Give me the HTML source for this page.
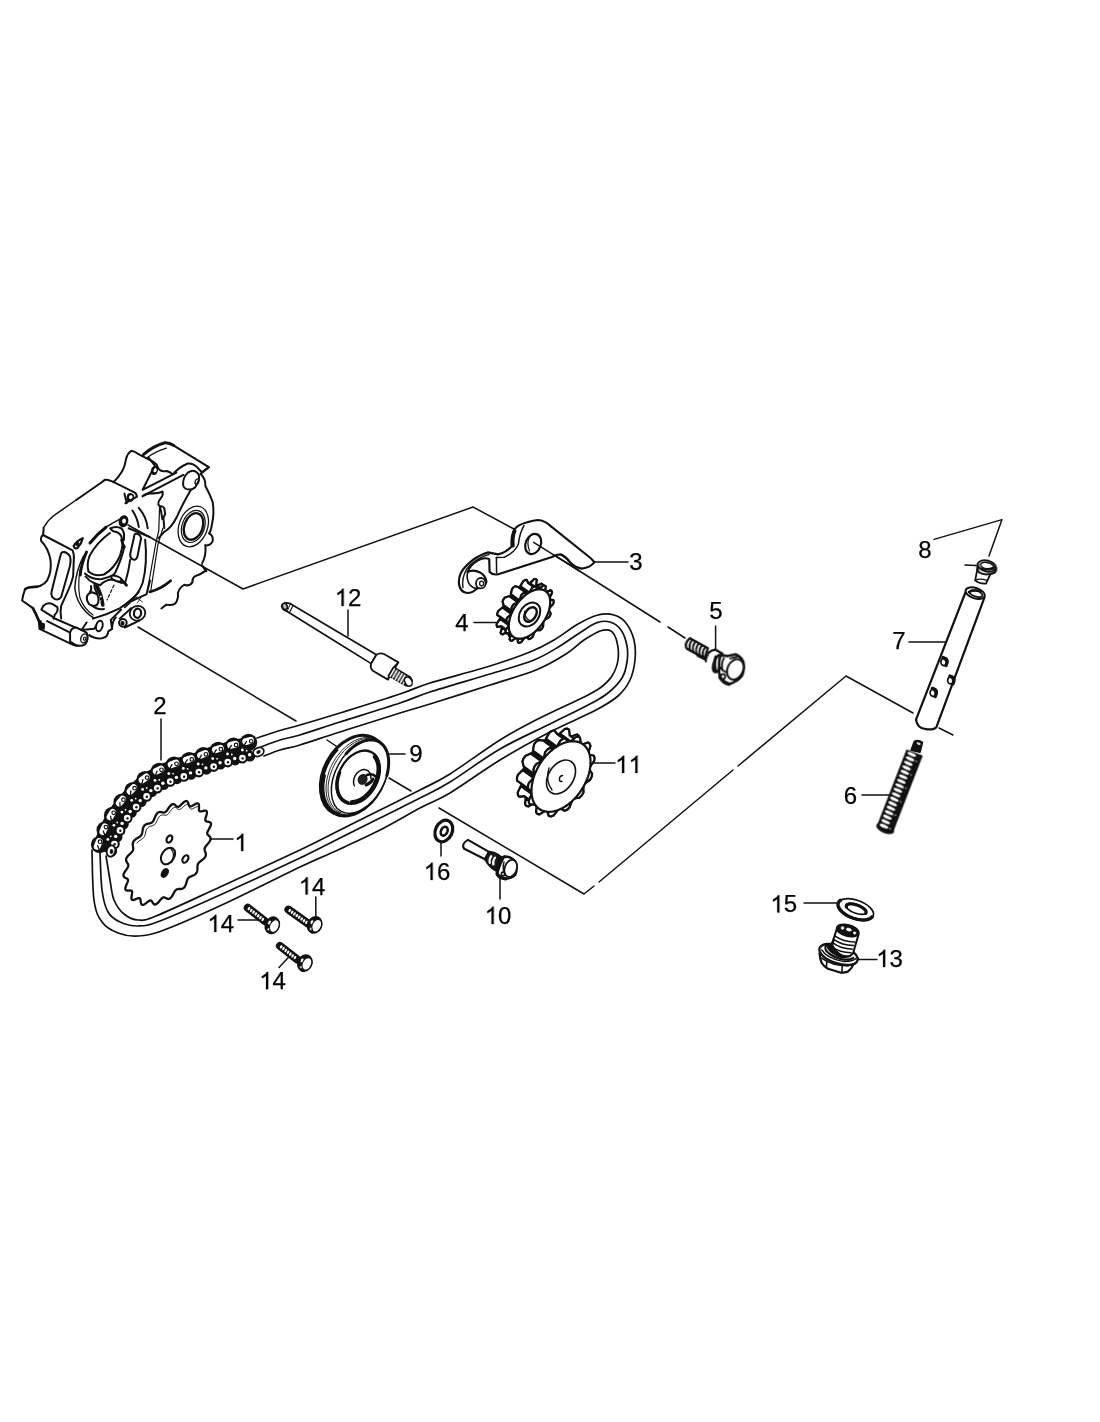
<!DOCTYPE html>
<html><head><meta charset="utf-8"><title>Cam chain - tensioner</title>
<style>
html,body{margin:0;padding:0;background:#fff;}
body{width:1100px;height:1422px;overflow:hidden;font-family:"Liberation Sans",sans-serif;}
svg{display:block;}
svg text{font-family:"Liberation Sans",sans-serif;fill:#000;}
svg path,svg ellipse,svg line{stroke-linecap:round;stroke-linejoin:round;}
</style></head><body>
<svg width="1100" height="1422" viewBox="0 0 1100 1422">
<rect width="1100" height="1422" fill="#fff"/>
<path d="M128,525L243,589L473,507L514,529" fill="none" stroke="#111" stroke-width="1.5" />
<path d="M540,546L660,622" fill="none" stroke="#111" stroke-width="1.5" />
<path d="M668,627L685,638" fill="none" stroke="#111" stroke-width="1.5" />
<path d="M138,627L296,721" fill="none" stroke="#111" stroke-width="1.5" />
<path d="M327,740L336,746" fill="none" stroke="#111" stroke-width="1.5" />
<path d="M389,778L411,791" fill="none" stroke="#111" stroke-width="1.5" />
<path d="M439,808L584,894L594,886" fill="none" stroke="#111" stroke-width="1.5" />
<path d="M599,882L733,770" fill="none" stroke="#111" stroke-width="1.5" />
<path d="M738,766L846,676L913,713" fill="none" stroke="#111" stroke-width="1.5" />
<path d="M939,728L953,735" fill="none" stroke="#111" stroke-width="1.5" />
<path d="M934,539.4L1002,519.6L989,556" fill="none" stroke="#111" stroke-width="1.5" />
<path d="M965,565L976,565.6" fill="none" stroke="#111" stroke-width="1.5" />
<path d="M161,719L161,760" fill="none" stroke="#111" stroke-width="1.5" />
<path d="M210,839L233,839" fill="none" stroke="#111" stroke-width="1.5" />
<path d="M594,562L628,562" fill="none" stroke="#111" stroke-width="1.5" />
<path d="M474,622.4L496,622.4" fill="none" stroke="#111" stroke-width="1.5" />
<path d="M715.6,626L715.6,649" fill="none" stroke="#111" stroke-width="1.5" />
<path d="M862,795L889,795" fill="none" stroke="#111" stroke-width="1.5" />
<path d="M909,642L945,642" fill="none" stroke="#111" stroke-width="1.5" />
<path d="M387,754L405,754" fill="none" stroke="#111" stroke-width="1.5" />
<path d="M500,878L500,899" fill="none" stroke="#111" stroke-width="1.5" />
<path d="M592,763L615,763" fill="none" stroke="#111" stroke-width="1.5" />
<path d="M348,610L348,636" fill="none" stroke="#111" stroke-width="1.5" />
<path d="M858,959.6L877,959.6" fill="none" stroke="#111" stroke-width="1.5" />
<path d="M238,920L260,920" fill="none" stroke="#111" stroke-width="1.5" />
<path d="M315.8,897L315.8,918.5" fill="none" stroke="#111" stroke-width="1.5" />
<path d="M279,967.5L289,956.7" fill="none" stroke="#111" stroke-width="1.5" />
<path d="M804,903L838,903" fill="none" stroke="#111" stroke-width="1.5" />
<path d="M441,843L441,856" fill="none" stroke="#111" stroke-width="1.5" />
<g style="filter:grayscale(1)"><path d="M763,0L583,0L583,1147Q518,1085 412.5,1023Q307,961 223,930L223,1104Q374,1175 487,1276Q600,1377 647,1472L763,1472Z" transform="translate(234.3,851) scale(0.011719,-0.011719)" fill="#000" stroke="#000" stroke-width="21.3"/><text x="153.3" y="713.6" font-size="24" stroke="#000" stroke-width="0.25">2</text><text x="629.3" y="570.4" font-size="24" stroke="#000" stroke-width="0.25">3</text><text x="455.3" y="631" font-size="24" stroke="#000" stroke-width="0.25">4</text><text x="709.3" y="619" font-size="24" stroke="#000" stroke-width="0.25">5</text><text x="843.7" y="804" font-size="24" stroke="#000" stroke-width="0.25">6</text><text x="892.3" y="649" font-size="24" stroke="#000" stroke-width="0.25">7</text><text x="918.3" y="557.6" font-size="24" stroke="#000" stroke-width="0.25">8</text><text x="409.3" y="762" font-size="24" stroke="#000" stroke-width="0.25">9</text><path d="M763,0L583,0L583,1147Q518,1085 412.5,1023Q307,961 223,930L223,1104Q374,1175 487,1276Q600,1377 647,1472L763,1472Z" transform="translate(484.7,924) scale(0.011719,-0.011719)" fill="#000" stroke="#000" stroke-width="21.3"/><text x="498" y="924" font-size="24" stroke="#000" stroke-width="0.25">0</text><path d="M763,0L583,0L583,1147Q518,1085 412.5,1023Q307,961 223,930L223,1104Q374,1175 487,1276Q600,1377 647,1472L763,1472Z" transform="translate(615.2,773) scale(0.011719,-0.011719)" fill="#000" stroke="#000" stroke-width="21.3"/><path d="M763,0L583,0L583,1147Q518,1085 412.5,1023Q307,961 223,930L223,1104Q374,1175 487,1276Q600,1377 647,1472L763,1472Z" transform="translate(628.5,773) scale(0.011719,-0.011719)" fill="#000" stroke="#000" stroke-width="21.3"/><path d="M763,0L583,0L583,1147Q518,1085 412.5,1023Q307,961 223,930L223,1104Q374,1175 487,1276Q600,1377 647,1472L763,1472Z" transform="translate(334.7,606) scale(0.011719,-0.011719)" fill="#000" stroke="#000" stroke-width="21.3"/><text x="348" y="606" font-size="24" stroke="#000" stroke-width="0.25">2</text><path d="M763,0L583,0L583,1147Q518,1085 412.5,1023Q307,961 223,930L223,1104Q374,1175 487,1276Q600,1377 647,1472L763,1472Z" transform="translate(876.2,967) scale(0.011719,-0.011719)" fill="#000" stroke="#000" stroke-width="21.3"/><text x="889.5" y="967" font-size="24" stroke="#000" stroke-width="0.25">3</text><path d="M763,0L583,0L583,1147Q518,1085 412.5,1023Q307,961 223,930L223,1104Q374,1175 487,1276Q600,1377 647,1472L763,1472Z" transform="translate(207.4,932) scale(0.011719,-0.011719)" fill="#000" stroke="#000" stroke-width="21.3"/><text x="220.7" y="932" font-size="24" stroke="#000" stroke-width="0.25">4</text><path d="M763,0L583,0L583,1147Q518,1085 412.5,1023Q307,961 223,930L223,1104Q374,1175 487,1276Q600,1377 647,1472L763,1472Z" transform="translate(298.7,894.6) scale(0.011719,-0.011719)" fill="#000" stroke="#000" stroke-width="21.3"/><text x="312" y="894.6" font-size="24" stroke="#000" stroke-width="0.25">4</text><path d="M763,0L583,0L583,1147Q518,1085 412.5,1023Q307,961 223,930L223,1104Q374,1175 487,1276Q600,1377 647,1472L763,1472Z" transform="translate(259.2,989.2) scale(0.011719,-0.011719)" fill="#000" stroke="#000" stroke-width="21.3"/><text x="272.5" y="989.2" font-size="24" stroke="#000" stroke-width="0.25">4</text><path d="M763,0L583,0L583,1147Q518,1085 412.5,1023Q307,961 223,930L223,1104Q374,1175 487,1276Q600,1377 647,1472L763,1472Z" transform="translate(770.4,912.4) scale(0.011719,-0.011719)" fill="#000" stroke="#000" stroke-width="21.3"/><text x="783.7" y="912.4" font-size="24" stroke="#000" stroke-width="0.25">5</text><path d="M763,0L583,0L583,1147Q518,1085 412.5,1023Q307,961 223,930L223,1104Q374,1175 487,1276Q600,1377 647,1472L763,1472Z" transform="translate(423.7,880) scale(0.011719,-0.011719)" fill="#000" stroke="#000" stroke-width="21.3"/><text x="437" y="880" font-size="24" stroke="#000" stroke-width="0.25">6</text></g>
<path d="M257,738C260.8,736.8 272.8,732.7 280,730.5C287.2,728.3 290,727.9 300,725C310,722.1 323.3,718.2 340,713C356.7,707.8 385,699 400,694C415,689 415,687.7 430,683C445,678.3 473.3,671.2 490,666C506.7,660.8 519.3,656.3 530,652C540.7,647.7 546,644.7 554,640C562,635.3 570.7,628.2 578,624C585.3,619.8 592,616.5 598,615C604,613.5 609.3,613.7 614,615C618.7,616.3 622.7,618.8 626,623C629.3,627.2 632.5,633.8 634,640C635.5,646.2 635.7,653.3 635,660C634.3,666.7 632.8,674 630,680C627.2,686 623.7,691 618,696C612.3,701 607.3,704 596,710C584.7,716 566,723.7 550,732C534,740.3 516.7,749.8 500,760C483.3,770.2 463.3,785 450,793C436.7,801 431.7,801.8 420,808C408.3,814.2 393.3,823.2 380,830C366.7,836.8 353.3,842.8 340,849C326.7,855.2 319.3,857.8 300,867C280.7,876.2 246.7,893.5 224,904C201.3,914.5 178.3,924.7 164,930C149.7,935.3 145.7,935.5 138,936C130.3,936.5 124,935.3 118,933C112,930.7 106,927.5 102,922C98,916.5 95.7,912 94,900C92.3,888 92.3,858.3 92,850" fill="none" stroke="#111" stroke-width="1.7" />
<path d="M261,747C264.2,745.8 273.5,742 280,740C286.5,738 290,738 300,735C310,732 323.3,727.3 340,722C356.7,716.7 385,708 400,703C415,698 415,696.8 430,692C445,687.2 472.7,679.3 490,674C507.3,668.7 522.3,664.7 534,660C545.7,655.3 552.7,650.3 560,646C567.3,641.7 572,637.8 578,634C584,630.2 590.7,625 596,623C601.3,621 605.8,620.8 610,622C614.2,623.2 618.2,626 621,630C623.8,634 626,640.7 627,646C628,651.3 627.8,656.7 627,662C626.2,667.3 625.2,672.8 622,678C618.8,683.2 613.3,688.7 608,693C602.7,697.3 599.7,698.8 590,704C580.3,709.2 565,716.5 550,724C535,731.5 516.7,739.3 500,749C483.3,758.7 463.3,773.8 450,782C436.7,790.2 431.7,792 420,798C408.3,804 393.3,811.3 380,818C366.7,824.7 353.3,831.3 340,838C326.7,844.7 320,848.5 300,858C280,867.5 243.3,884.5 220,895C196.7,905.5 173.7,915.8 160,921C146.3,926.2 144.7,925.8 138,926C131.3,926.2 125,924.3 120,922C115,919.7 111,917.3 108,912C105,906.7 103.3,900 102,890C100.7,880 100.3,858.3 100,852" fill="none" stroke="#111" stroke-width="1.7" />
<path d="M264,756C266.7,755 274,751.8 280,750C286,748.2 290,748 300,745C310,742 323.3,737.3 340,732C356.7,726.7 385,717.7 400,713C415,708.3 415,708.7 430,704C445,699.3 472.3,690.7 490,685C507.7,679.3 523.3,675.2 536,670C548.7,664.8 558,659 566,654C574,649 578.3,643.8 584,640C589.7,636.2 595.5,632.5 600,631C604.5,629.5 608.2,629.2 611,631C613.8,632.8 615.8,637.2 617,642C618.2,646.8 618.8,654.3 618,660C617.2,665.7 615,671.3 612,676C609,680.7 605,684.3 600,688C595,691.7 592,693 582,698C572,703 553.7,711 540,718C526.3,725 515,730.7 500,740C485,749.3 463.3,765.7 450,774C436.7,782.3 431.7,784 420,790C408.3,796 393.3,803.3 380,810C366.7,816.7 353.3,823.3 340,830C326.7,836.7 320,840.5 300,850C280,859.5 244,876 220,887C196,898 169.7,910.5 156,916C142.3,921.5 143.3,920.3 138,920C132.7,919.7 128,917.3 124,914C120,910.7 116.3,905.7 114,900C111.7,894.3 111.3,887.3 110,880C108.7,872.7 106.7,860 106,856" fill="none" stroke="#111" stroke-width="1.7" />
<path d="M102.5,851C102.9,850 104.1,847 104.8,845.1C105.5,843.2 106.2,841.4 106.8,839.6C107.5,837.8 108.2,836 109,834.3C109.7,832.5 110.3,830.8 111.1,829.2C111.8,827.6 112.6,826.1 113.4,824.5C114.2,822.9 115.1,821.3 116,819.8C116.9,818.3 117.8,816.7 118.8,815.2C119.7,813.7 120.8,812.2 121.8,810.8C122.8,809.4 123.8,808.1 124.9,806.7C126,805.4 127.2,804.1 128.4,802.7C129.6,801.4 130.9,800 132.2,798.6C133.5,797.3 135,795.8 136.3,794.5C137.6,793.1 139,791.7 140.3,790.5C141.6,789.2 142.9,788 144.2,786.9C145.5,785.8 146.7,784.8 148,783.9C149.3,782.9 150.7,782 152.1,781.1C153.5,780.3 155.1,779.4 156.6,778.6C158.2,777.7 159.9,776.8 161.6,776C163.2,775.2 164.8,774.4 166.5,773.7C168.1,773 169.7,772.3 171.5,771.7C173.2,771 175,770.3 176.7,769.7C178.5,769.1 180.1,768.5 181.9,768C183.6,767.4 185.3,767 187.2,766.5C189.1,765.9 191.2,765.4 193.3,764.7C195.4,764.1 197.7,763.3 199.7,762.6C201.8,761.9 203.7,761.1 205.6,760.4C207.5,759.7 209.3,759 211.1,758.3C212.8,757.7 214.4,757.1 216.2,756.5C218,755.9 219.8,755.4 221.6,754.8C223.4,754.3 225.2,753.8 227.1,753.2C229,752.7 230.9,752.2 232.8,751.7C234.7,751.2 236.5,750.7 238.4,750.2C240.3,749.7 242.3,749.2 244.2,748.8C246.1,748.3 249,747.6 249.9,747.3" fill="none" stroke="#111" stroke-width="22" style="stroke-linecap:butt"/>
<circle cx="99.5" cy="844.5" r="8.6" fill="#111"/>
<circle cx="105.1" cy="829.9" r="8.6" fill="#111"/>
<circle cx="112.5" cy="815.4" r="8.6" fill="#111"/>
<circle cx="122" cy="802.1" r="8.6" fill="#111"/>
<circle cx="132.9" cy="790.5" r="8.6" fill="#111"/>
<circle cx="145" cy="779.6" r="8.6" fill="#111"/>
<circle cx="159.2" cy="771.4" r="8.6" fill="#111"/>
<circle cx="174" cy="765.2" r="8.6" fill="#111"/>
<circle cx="189.2" cy="760.5" r="8.6" fill="#111"/>
<circle cx="203.4" cy="755.7" r="8.6" fill="#111"/>
<circle cx="218.3" cy="750.4" r="8.6" fill="#111"/>
<circle cx="233.5" cy="746.1" r="8.6" fill="#111"/>
<circle cx="248.6" cy="742.3" r="8.6" fill="#111"/>
<circle cx="111.7" cy="851.2" r="5.4" fill="#111"/>
<circle cx="114.4" cy="844" r="5.4" fill="#111"/>
<circle cx="117.1" cy="837" r="5.4" fill="#111"/>
<circle cx="120" cy="830.4" r="5.4" fill="#111"/>
<circle cx="123.4" cy="824.1" r="5.4" fill="#111"/>
<circle cx="127.2" cy="818.1" r="5.4" fill="#111"/>
<circle cx="131.4" cy="812.4" r="5.4" fill="#111"/>
<circle cx="136.1" cy="807" r="5.4" fill="#111"/>
<circle cx="141.3" cy="801.6" r="5.4" fill="#111"/>
<circle cx="146.6" cy="796.4" r="5.4" fill="#111"/>
<circle cx="151.8" cy="791.8" r="5.4" fill="#111"/>
<circle cx="157.3" cy="788.1" r="5.4" fill="#111"/>
<circle cx="163.6" cy="784.6" r="5.4" fill="#111"/>
<circle cx="170.2" cy="781.5" r="5.4" fill="#111"/>
<circle cx="176.9" cy="778.8" r="5.4" fill="#111"/>
<circle cx="183.8" cy="776.4" r="5.4" fill="#111"/>
<circle cx="190.9" cy="774.4" r="5.4" fill="#111"/>
<circle cx="198.8" cy="772" r="5.4" fill="#111"/>
<circle cx="206.5" cy="769.3" r="5.4" fill="#111"/>
<circle cx="213.6" cy="766.5" r="5.4" fill="#111"/>
<circle cx="220.5" cy="764.1" r="5.4" fill="#111"/>
<circle cx="227.7" cy="762" r="5.4" fill="#111"/>
<circle cx="235.1" cy="760" r="5.4" fill="#111"/>
<circle cx="242.4" cy="758.1" r="5.4" fill="#111"/>
<circle cx="249.9" cy="756.2" r="5.4" fill="#111"/>
<path d="M97.2,846.4 L99.1,841.5" stroke="#fff" stroke-width="6.8" fill="none"/>
<circle cx="100.1" cy="841.7" r="1.8" fill="none" stroke="#111" stroke-width="1.2"/>
<path d="M99.5,850.4 L97.7,845.7" stroke="#111" stroke-width="1.3" fill="none"/>
<path d="M102.8,831.7 L104.9,826.9" stroke="#fff" stroke-width="6.8" fill="none"/>
<circle cx="105.9" cy="827.1" r="1.8" fill="none" stroke="#111" stroke-width="1.2"/>
<path d="M105,835.7 L103.3,831.1" stroke="#111" stroke-width="1.3" fill="none"/>
<path d="M110,816.9 L112.7,812.4" stroke="#fff" stroke-width="6.8" fill="none"/>
<circle cx="113.7" cy="812.8" r="1.8" fill="none" stroke="#111" stroke-width="1.2"/>
<path d="M111.5,821.2 L110.6,816.3" stroke="#111" stroke-width="1.3" fill="none"/>
<path d="M119.3,803.2 L122.6,799.2" stroke="#fff" stroke-width="6.8" fill="none"/>
<circle cx="123.5" cy="799.7" r="1.8" fill="none" stroke="#111" stroke-width="1.2"/>
<path d="M120.1,807.7 L119.9,802.7" stroke="#111" stroke-width="1.3" fill="none"/>
<path d="M130.1,791.4 L133.7,787.7" stroke="#fff" stroke-width="6.8" fill="none"/>
<circle cx="134.6" cy="788.2" r="1.8" fill="none" stroke="#111" stroke-width="1.2"/>
<path d="M130.5,795.9 L130.8,790.9" stroke="#111" stroke-width="1.3" fill="none"/>
<path d="M142.1,780 L146.3,776.9" stroke="#fff" stroke-width="6.8" fill="none"/>
<circle cx="147.1" cy="777.6" r="1.8" fill="none" stroke="#111" stroke-width="1.2"/>
<path d="M141.8,784.5 L142.9,779.7" stroke="#111" stroke-width="1.3" fill="none"/>
<path d="M156.2,771.3 L160.9,769" stroke="#fff" stroke-width="6.8" fill="none"/>
<circle cx="161.5" cy="769.8" r="1.8" fill="none" stroke="#111" stroke-width="1.2"/>
<path d="M155.2,775.7 L157.1,771.1" stroke="#111" stroke-width="1.3" fill="none"/>
<path d="M171.1,764.7 L176,763" stroke="#fff" stroke-width="6.8" fill="none"/>
<circle cx="176.5" cy="763.8" r="1.8" fill="none" stroke="#111" stroke-width="1.2"/>
<path d="M169.5,769 L171.9,764.6" stroke="#111" stroke-width="1.3" fill="none"/>
<path d="M186.3,759.9 L191.3,758.5" stroke="#fff" stroke-width="6.8" fill="none"/>
<circle cx="191.8" cy="759.4" r="1.8" fill="none" stroke="#111" stroke-width="1.2"/>
<path d="M184.5,764 L187.2,759.8" stroke="#111" stroke-width="1.3" fill="none"/>
<path d="M200.5,755.3 L205.3,753.4" stroke="#fff" stroke-width="6.8" fill="none"/>
<circle cx="205.9" cy="754.3" r="1.8" fill="none" stroke="#111" stroke-width="1.2"/>
<path d="M199,759.6 L201.3,755.2" stroke="#111" stroke-width="1.3" fill="none"/>
<path d="M215.4,749.8 L220.4,748.3" stroke="#fff" stroke-width="6.8" fill="none"/>
<circle cx="220.9" cy="749.2" r="1.8" fill="none" stroke="#111" stroke-width="1.2"/>
<path d="M213.7,754 L216.3,749.7" stroke="#111" stroke-width="1.3" fill="none"/>
<path d="M230.6,745.4 L235.6,744.1" stroke="#fff" stroke-width="6.8" fill="none"/>
<circle cx="236.1" cy="745" r="1.8" fill="none" stroke="#111" stroke-width="1.2"/>
<path d="M228.7,749.6 L231.4,745.4" stroke="#111" stroke-width="1.3" fill="none"/>
<path d="M245.7,741.6 L250.7,740.3" stroke="#fff" stroke-width="6.8" fill="none"/>
<circle cx="251.2" cy="741.3" r="1.8" fill="none" stroke="#111" stroke-width="1.2"/>
<path d="M243.7,745.7 L246.5,741.6" stroke="#111" stroke-width="1.3" fill="none"/>
<circle cx="110.2" cy="850.7" r="1.7" fill="#fff"/>
<circle cx="114.4" cy="844" r="3.3" fill="#fff"/>
<circle cx="114.7" cy="844.3" r="1.2" fill="#111"/>
<circle cx="115.7" cy="836.4" r="1.7" fill="#fff"/>
<circle cx="120" cy="830.4" r="3.3" fill="#fff"/>
<circle cx="120.3" cy="830.7" r="1.2" fill="#111"/>
<circle cx="122.1" cy="823.4" r="1.7" fill="#fff"/>
<circle cx="127.2" cy="818.1" r="3.3" fill="#fff"/>
<circle cx="127.5" cy="818.4" r="1.2" fill="#111"/>
<circle cx="130.2" cy="811.5" r="1.7" fill="#fff"/>
<circle cx="136.1" cy="807" r="3.3" fill="#fff"/>
<circle cx="136.4" cy="807.3" r="1.2" fill="#111"/>
<circle cx="140.2" cy="800.6" r="1.7" fill="#fff"/>
<circle cx="146.6" cy="796.4" r="3.3" fill="#fff"/>
<circle cx="146.9" cy="796.7" r="1.2" fill="#111"/>
<circle cx="150.9" cy="790.6" r="1.7" fill="#fff"/>
<circle cx="157.3" cy="788.1" r="3.3" fill="#fff"/>
<circle cx="157.6" cy="788.4" r="1.2" fill="#111"/>
<circle cx="162.9" cy="783.3" r="1.7" fill="#fff"/>
<circle cx="170.2" cy="781.5" r="3.3" fill="#fff"/>
<circle cx="170.5" cy="781.8" r="1.2" fill="#111"/>
<circle cx="176.4" cy="777.4" r="1.7" fill="#fff"/>
<circle cx="183.8" cy="776.4" r="3.3" fill="#fff"/>
<circle cx="184.1" cy="776.7" r="1.2" fill="#111"/>
<circle cx="190.5" cy="772.9" r="1.7" fill="#fff"/>
<circle cx="198.8" cy="772" r="3.3" fill="#fff"/>
<circle cx="199.1" cy="772.3" r="1.2" fill="#111"/>
<circle cx="205.9" cy="767.9" r="1.7" fill="#fff"/>
<circle cx="213.6" cy="766.5" r="3.3" fill="#fff"/>
<circle cx="213.9" cy="766.8" r="1.2" fill="#111"/>
<circle cx="220.1" cy="762.7" r="1.7" fill="#fff"/>
<circle cx="227.7" cy="762" r="3.3" fill="#fff"/>
<circle cx="228" cy="762.3" r="1.2" fill="#111"/>
<circle cx="234.7" cy="758.5" r="1.7" fill="#fff"/>
<circle cx="242.4" cy="758.1" r="3.3" fill="#fff"/>
<circle cx="242.7" cy="758.4" r="1.2" fill="#111"/>
<circle cx="249.6" cy="754.7" r="1.7" fill="#fff"/>
<circle cx="107.8" cy="839.4" r="1.4" fill="#fff"/>
<circle cx="110.8" cy="836.3" r="0.9" fill="#fff"/>
<circle cx="113.9" cy="825.3" r="1.4" fill="#fff"/>
<circle cx="117.2" cy="822.5" r="0.9" fill="#fff"/>
<circle cx="121.9" cy="812.1" r="1.4" fill="#fff"/>
<circle cx="125.6" cy="809.8" r="0.9" fill="#fff"/>
<circle cx="131.7" cy="800.3" r="1.4" fill="#fff"/>
<circle cx="135.7" cy="798.6" r="0.9" fill="#fff"/>
<circle cx="142.6" cy="789.4" r="1.4" fill="#fff"/>
<circle cx="146.7" cy="787.9" r="0.9" fill="#fff"/>
<circle cx="155" cy="780.4" r="1.4" fill="#fff"/>
<circle cx="159.3" cy="779.9" r="0.9" fill="#fff"/>
<circle cx="168.8" cy="773.6" r="1.4" fill="#fff"/>
<circle cx="173.1" cy="773.6" r="0.9" fill="#fff"/>
<circle cx="183.3" cy="768.4" r="1.4" fill="#fff"/>
<circle cx="187.6" cy="768.9" r="0.9" fill="#fff"/>
<circle cx="198.2" cy="764" r="1.4" fill="#fff"/>
<circle cx="202.5" cy="764.3" r="0.9" fill="#fff"/>
<circle cx="212.7" cy="758.6" r="1.4" fill="#fff"/>
<circle cx="217.1" cy="758.8" r="0.9" fill="#fff"/>
<circle cx="227.5" cy="754" r="1.4" fill="#fff"/>
<circle cx="231.8" cy="754.5" r="0.9" fill="#fff"/>
<circle cx="242.4" cy="750" r="1.4" fill="#fff"/>
<circle cx="246.7" cy="750.7" r="0.9" fill="#fff"/>
<ellipse cx="258.5" cy="752" rx="5.6" ry="4.2" fill="#fff" stroke="#111" stroke-width="1.8" transform="rotate(-25 258.5 752)"/>
<ellipse cx="258.5" cy="752" rx="1.7" ry="1.2" fill="#111" stroke="#111" stroke-width="1" transform="rotate(-25 258.5 752)"/>
<ellipse cx="111" cy="851" rx="4.2" ry="5.8" fill="#fff" stroke="#111" stroke-width="1.8" transform="rotate(15 111 851)"/>
<ellipse cx="111.5" cy="851.5" rx="1.3" ry="1.9" fill="#111" stroke="#111" stroke-width="1" transform="rotate(15 111.5 851.5)"/>
<g transform="translate(80,690) scale(0.20000)"><path d="M581.5,915.3L578.6,918.9L575.1,922L571.1,924.6L566.8,926.8L562.3,928.8L557.8,930.5L553.5,932.3L549.5,934.2L545.9,936.4L542.7,939L540,942.1L537.8,945.8L535.9,950.1L534.3,954.8L532.8,960L531.3,965.3L529.7,970.6L527.8,975.7L525.6,980.5L523,984.7L520,988.2L516.6,990.9L512.9,992.9L509,994.1L505,994.7L500.8,995L496.8,995L492.9,995.1L489.1,995.4L485.6,996.3L482.3,997.8L479.3,1000.1L476.4,1003.1L473.6,1007L470.9,1011.5L468.1,1016.5L465.3,1021.8L462.4,1027L459.4,1031.9L456.2,1036.2L452.9,1039.8L449.5,1042.4L446,1044.1L442.5,1044.7L439.1,1044.4L435.7,1043.4L432.4,1041.9L429.2,1040.2L426.1,1038.6L423.1,1037.4L420.1,1036.7L417,1037L413.9,1038.1L410.7,1040.2L407.4,1043.3L403.9,1047.1L400.2,1051.4L396.4,1056L392.6,1060.6L388.7,1064.7L384.8,1068.2L381.1,1070.8L377.7,1072.3L374.4,1072.7L371.5,1071.9L368.9,1070.2L366.5,1067.7L364.4,1064.6L362.4,1061.3L360.5,1058.2L358.5,1055.5L356.3,1053.4L353.9,1052.3L351.1,1052.2L348,1053.1L344.4,1055L340.5,1057.7L336.4,1060.9L332,1064.4L327.6,1067.7L323.2,1070.7L319.2,1073L315.5,1074.3L312.2,1074.5L309.6,1073.6L307.5,1071.6L305.9,1068.6L304.8,1064.8L304.1,1060.5L303.5,1056L303,1051.7L302.2,1047.8L301.2,1044.5L299.7,1042.2L297.6,1040.8L294.9,1040.5L291.5,1041L287.7,1042.2L283.4,1044L279,1045.9L274.5,1047.8L270.2,1049.2L266.3,1050L262.9,1049.9L260.3,1048.9L258.4,1046.7L257.3,1043.6L257,1039.7L257.3,1035L258,1030L258.9,1024.8L259.8,1019.7L260.5,1015L260.7,1011L260.2,1007.7L259.1,1005.2L257.1,1003.6L254.4,1002.7L251,1002.4L247.2,1002.5L243.1,1002.7L239,1002.9L235.1,1002.6L231.8,1001.9L229.2,1000.4L227.4,998.1L226.5,995L226.6,991.1L227.5,986.6L229.1,981.6L231.2,976.3L233.5,970.9L235.8,965.7L237.7,960.8L239.2,956.4L239.9,952.5L239.7,949.2L238.7,946.6L236.9,944.4L234.4,942.6L231.4,941L228.1,939.5L224.9,937.9L221.9,936L219.5,933.7L217.8,931L217.1,927.7L217.3,923.9L218.5,919.7L220.5,915.1L223.3,910.2L226.5,905.3L230,900.3L233.4,895.5L236.4,890.9L239,886.6L240.7,882.6L241.7,878.9L241.8,875.5L241,872.3L239.6,869.2L237.8,866.1L235.7,863.1L233.6,859.9L231.9,856.5L230.6,853L230.1,849.2L230.5,845.3L231.8,841.2L234,837L236.9,832.8L240.6,828.6L244.6,824.5L248.8,820.5L253,816.6L256.8,812.8L260.1,809.1L262.8,805.4L264.7,801.7L265.8,798L266.3,794.1L266.1,790.1L265.6,786L264.9,781.7L264.3,777.3L263.9,772.8L264,768.3L264.7,763.9L266.2,759.7L268.4,755.7L271.4,752L275,748.6L279,745.5L283.5,742.7L288,740L292.4,737.5L296.6,735L300.4,732.3L303.6,729.4L306.3,726.1L308.3,722.5L309.9,718.4L311,714L311.9,709.2L312.7,704.1L313.5,698.9L314.6,693.8L316,688.9L317.9,684.3L320.3,680.2L323.2,676.7L326.6,673.8L330.5,671.6L334.6,669.9L338.9,668.6L343.3,667.7L347.6,666.8L351.6,665.8L355.4,664.4L358.8,662.6L361.9,660.2L364.7,657.1L367.2,653.3L369.4,648.9L371.6,644L373.7,638.7L376,633.3L378.4,628.1L381,623.2L383.8,618.9L387,615.4L390.3,612.7L393.9,611L397.6,610.1L401.3,610L405.1,610.4L408.8,611.2L412.4,612L415.9,612.7L419.3,612.9L422.5,612.4L425.7,611.1L428.8,608.9L431.9,605.8L435,601.9L438.2,597.4L441.5,592.5L444.9,587.5L448.4,582.7L451.9,578.4L455.5,574.8L459,572.2L462.5,570.7L465.8,570.2L469,570.7L471.9,572.2L474.8,574.3L477.4,576.7L480,579.2L482.6,581.5L485.1,583.2L487.8,584.1L490.7,584.1L493.8,583L497.2,581L500.8,578.1L504.7,574.5L508.7,570.5L512.9,566.4L517.1,562.6L521.2,559.3L525.1,556.8L528.7,555.3L531.9,555L534.6,555.9L537,557.8L538.9,560.7L540.5,564.2L541.8,568L543.1,571.9L544.4,575.5L545.9,578.6L547.7,580.8L549.9,582.1L552.6,582.3L555.9,581.5L559.6,579.9L563.7,577.6L568.1,574.9L572.6,572.2L577.1,569.7L581.3,567.8L585.1,566.7L588.4,566.6L591.1,567.6L593,569.6L594.3,572.7L594.9,576.7L595.1,581.2L595,586.1L594.8,590.9L594.7,595.5L594.9,599.6L595.6,602.9L596.9,605.3L599,606.7L601.7,607.3L605.1,607.1L609,606.4L613.2,605.4L617.6,604.3L621.9,603.4L625.8,603.1L629.2,603.5L631.8,604.7L633.6,606.9L634.6,610L634.7,613.9L634,618.5L632.8,623.6L631.2,629L629.6,634.3L628.1,639.3L627,643.9L626.5,647.9L626.7,651.2L627.8,653.7L629.8,655.6L632.4,656.9L635.7,657.7L639.3,658.4L643.1,659.1L646.7,660L649.9,661.3L652.5,663.1L654.2,665.6L655,668.7L654.8,672.6L653.8,676.9L651.9,681.7L649.4,686.9L646.5,692.1L643.6,697.3L640.9,702.3L638.6,706.9L636.9,711.1L636.1,714.9L636.1,718.2L637,721.1L638.7,723.7L640.9,726.1L643.6,728.4L646.3,730.7L648.9,733.3L651,736.1L652.5,739.2L653.2,742.7L652.9,746.5L651.6,750.6L649.5,755L646.6,759.5L643.1,764.1L639.3,768.7L635.4,773.2L631.7,777.5L628.4,781.7L625.8,785.7L624,789.5L622.9,793.2L622.7,796.8L623.2,800.4L624.2,804L625.5,807.7L627,811.5L628.2,815.4L629.1,819.4L629.3,823.5L628.8,827.6L627.5,831.8L625.3,835.8L622.3,839.7L618.7,843.5L614.5,847.1L610.1,850.5L605.7,853.9L601.5,857.1L597.6,860.3L594.3,863.6L591.7,867L589.7,870.6L588.4,874.5L587.7,878.7L587.3,883.1L587.2,887.7L587.2,892.6L587,897.4L586.5,902.3L585.4,906.9L583.8,911.3Z" fill="#fff" stroke="#111" stroke-width="11.5" />
<path d="M285.9,764.8L288.6,761.2L291.9,757.9L295.7,754.8L299.7,752L303.8,749.4L307.8,746.8L311.6,744.2L315.1,741.6L318.1,738.7L320.6,735.5L322.7,732L324.3,728.2L325.5,724L326.6,719.5L327.5,714.8L328.5,710L329.7,705.3L331.2,700.7L333.1,696.4L335.5,692.6L338.3,689.2L341.5,686.4L345.1,684.2L348.9,682.4L352.9,681L356.9,679.8L360.8,678.7L364.6,677.5L368.1,676.1L371.4,674.2L374.3,671.8L377,668.9L379.4,665.3L381.7,661.2L383.9,656.7L386,651.9L388.3,647L390.7,642.2L393.2,637.7L396,633.8L399,630.5L402.2,627.9L405.5,626.2L409,625.1L412.5,624.8L416.1,624.9L419.6,625.4L423,625.9L426.3,626.2L429.5,626.1L432.6,625.5L435.6,624.2L438.6,622.1L441.6,619.2L444.6,615.7L447.7,611.6L450.8,607.2L454.1,602.7L457.4,598.4L460.7,594.6L464.1,591.3L467.5,588.9L470.7,587.4L473.9,586.9L476.9,587.2L479.8,588.3L482.5,590L485.1,592L487.6,594L490,595.8L492.5,597.2L495.1,597.9L497.9,597.8L500.9,596.8L504,594.9L507.5,592.3L511.1,589.2L514.9,585.7L518.8,582.1L522.7,578.7L526.5,575.8L530.1,573.7L533.5,572.4L536.5,572.1L539.2,572.8L541.4,574.4L543.3,576.9L545,579.9L546.4,583.2L547.7,586.6L549,589.7L550.6,592.4L552.3,594.3L554.5,595.4L557.1,595.7L560.1,595L563.5,593.7L567.3,591.8L571.3,589.5L575.5,587.2L579.5,585.1L583.4,583.6L586.9,582.7L590,582.7L592.4,583.6L594.3,585.5L595.6,588.3L596.4,591.8L596.7,595.8L596.8,600.1" fill="none" stroke="#111" stroke-width="5" />
<ellipse cx="440" cy="830" rx="31" ry="45" fill="none" stroke="#111" stroke-width="10" transform="rotate(32 440 830)"/>
<path d="M455,795 Q478,815 458,862" fill="none" stroke="#111" stroke-width="6.5" />
<ellipse cx="447" cy="745" rx="13" ry="19" fill="none" stroke="#111" stroke-width="11" transform="rotate(30 447 745)"/>
<ellipse cx="527" cy="845" rx="13" ry="20" fill="none" stroke="#111" stroke-width="11" transform="rotate(30 527 845)"/>
<ellipse cx="424" cy="915" rx="12" ry="21" fill="#111" stroke="#111" stroke-width="11" transform="rotate(30 424 915)"/></g>
<path d="M542.6,623.2L540.9,625.5L539,627.7L537,629.8L534.9,631.7L532.8,633.4L530.7,634.9L528.5,636.2L526.3,637.2L524.2,638L522.1,638.5L520.2,638.7L518.3,638.6L516.5,638.3L514.9,637.8L513.4,636.9L512.2,635.9L511.1,634.5L510.2,633L509.5,631.2L509,629.3L508.8,627.2L508.8,624.9L509,622.5L509.5,620.1L510.1,617.5L511,614.9L512.1,612.4L513.3,609.8L514.8,607.3L516.4,604.8L518.1,602.5L520,600.3L522,598.2L524.1,596.3L526.2,594.6L528.3,593.1L530.5,591.8L532.7,590.8L534.8,590L536.9,589.5L538.8,589.3L540.7,589.4L542.5,589.7L544.1,590.2L545.6,591.1L546.8,592.1L547.9,593.5L548.8,595L549.5,596.8L550,598.7L550.2,600.8L550.2,603.1L550,605.5L549.5,607.9L548.9,610.5L548,613.1L546.9,615.6L545.7,618.2L544.2,620.7Z" fill="#111" stroke="#111" stroke-width="0.6" />
<path d="M541.9,622.6L540.1,625L538.2,627.2L536.3,629.3L534.2,631.2L532.1,632.9L529.9,634.4L527.7,635.6L525.6,636.6L523.5,637.4L521.4,637.9L519.4,638.1L517.5,638.1L515.8,637.8L514.1,637.2L512.7,636.4L511.4,635.3L510.3,634L509.4,632.4L508.7,630.7L508.3,628.7L508.1,626.6L508,624.4L508.3,622L508.7,619.5L509.4,617L510.2,614.4L511.3,611.8L512.6,609.3L514,606.7L515.6,604.3L517.4,601.9L519.3,599.7L521.2,597.6L523.3,595.7L525.4,594L527.6,592.6L529.8,591.3L531.9,590.3L534,589.5L536.1,589L538.1,588.8L540,588.8L541.7,589.1L543.4,589.7L544.8,590.5L546.1,591.6L547.2,592.9L548.1,594.5L548.8,596.2L549.2,598.2L549.4,600.3L549.5,602.6L549.2,604.9L548.8,607.4L548.1,609.9L547.3,612.5L546.2,615.1L544.9,617.7L543.5,620.2Z" fill="#111" stroke="#111" stroke-width="0.6" />
<path d="M541.1,622.1L539.4,624.4L537.5,626.7L535.5,628.7L533.4,630.6L531.3,632.3L529.2,633.8L527,635.1L524.8,636.1L522.7,636.9L520.6,637.4L518.7,637.6L516.8,637.6L515,637.3L513.4,636.7L511.9,635.9L510.7,634.8L509.6,633.4L508.7,631.9L508,630.1L507.5,628.2L507.3,626.1L507.3,623.8L507.5,621.4L508,619L508.6,616.4L509.5,613.9L510.6,611.3L511.8,608.7L513.3,606.2L514.9,603.7L516.6,601.4L518.5,599.2L520.5,597.1L522.6,595.2L524.7,593.5L526.8,592L529,590.7L531.2,589.7L533.3,589L535.4,588.5L537.3,588.2L539.2,588.3L541,588.6L542.6,589.1L544.1,590L545.3,591.1L546.4,592.4L547.3,593.9L548,595.7L548.5,597.6L548.7,599.8L548.7,602L548.5,604.4L548,606.9L547.4,609.4L546.5,612L545.4,614.6L544.2,617.1L542.7,619.6Z" fill="#111" stroke="#111" stroke-width="0.6" />
<path d="M540.4,621.6L538.6,623.9L536.7,626.1L534.8,628.2L532.7,630.1L530.6,631.8L528.4,633.3L526.2,634.5L524.1,635.6L522,636.3L519.9,636.8L517.9,637.1L516,637L514.3,636.7L512.6,636.1L511.2,635.3L509.9,634.2L508.8,632.9L507.9,631.4L507.2,629.6L506.8,627.6L506.6,625.5L506.5,623.3L506.8,620.9L507.2,618.4L507.9,615.9L508.7,613.3L509.8,610.7L511.1,608.2L512.5,605.6L514.1,603.2L515.9,600.9L517.8,598.6L519.7,596.6L521.8,594.7L523.9,593L526.1,591.5L528.3,590.2L530.4,589.2L532.5,588.4L534.6,587.9L536.6,587.7L538.5,587.7L540.2,588L541.9,588.6L543.3,589.4L544.6,590.5L545.7,591.8L546.6,593.4L547.3,595.2L547.7,597.1L547.9,599.2L548,601.5L547.7,603.8L547.3,606.3L546.6,608.9L545.8,611.4L544.7,614L543.4,616.6L542,619.1Z" fill="#111" stroke="#111" stroke-width="0.6" />
<path d="M539.6,621L537.9,623.4L536,625.6L534,627.6L531.9,629.5L529.8,631.2L527.7,632.7L525.5,634L523.3,635L521.2,635.8L519.1,636.3L517.2,636.5L515.3,636.5L513.5,636.2L511.9,635.6L510.4,634.8L509.2,633.7L508.1,632.4L507.2,630.8L506.5,629.1L506,627.1L505.8,625L505.8,622.7L506,620.4L506.5,617.9L507.1,615.4L508,612.8L509.1,610.2L510.3,607.6L511.8,605.1L513.4,602.7L515.1,600.3L517,598.1L519,596L521.1,594.1L523.2,592.4L525.3,590.9L527.5,589.7L529.7,588.6L531.8,587.9L533.9,587.4L535.8,587.1L537.7,587.2L539.5,587.5L541.1,588.1L542.6,588.9L543.8,590L544.9,591.3L545.8,592.9L546.5,594.6L547,596.6L547.2,598.7L547.2,600.9L547,603.3L546.5,605.8L545.9,608.3L545,610.9L543.9,613.5L542.7,616L541.2,618.6Z" fill="#111" stroke="#111" stroke-width="0.6" />
<path d="M538.9,620.5L537.1,622.8L535.2,625L533.3,627.1L531.2,629L529.1,630.7L526.9,632.2L524.7,633.5L522.6,634.5L520.5,635.2L518.4,635.7L516.4,636L514.5,635.9L512.8,635.6L511.1,635.1L509.7,634.2L508.4,633.1L507.3,631.8L506.4,630.3L505.7,628.5L505.3,626.6L505.1,624.5L505,622.2L505.3,619.8L505.7,617.3L506.4,614.8L507.2,612.2L508.3,609.7L509.6,607.1L511,604.6L512.6,602.1L514.4,599.8L516.3,597.5L518.2,595.5L520.3,593.6L522.4,591.9L524.6,590.4L526.8,589.1L528.9,588.1L531,587.3L533.1,586.8L535.1,586.6L537,586.6L538.7,586.9L540.4,587.5L541.8,588.4L543.1,589.4L544.2,590.8L545.1,592.3L545.8,594.1L546.2,596L546.4,598.1L546.5,600.4L546.2,602.8L545.8,605.2L545.1,607.8L544.3,610.3L543.2,612.9L541.9,615.5L540.5,618Z" fill="#111" stroke="#111" stroke-width="0.6" />
<path d="M538.1,619.9L536.4,622.3L534.5,624.5L532.5,626.6L530.4,628.5L528.3,630.2L526.2,631.7L524,632.9L521.8,633.9L519.7,634.7L517.6,635.2L515.7,635.4L513.8,635.4L512,635.1L510.4,634.5L508.9,633.7L507.7,632.6L506.6,631.3L505.7,629.7L505,628L504.5,626L504.3,623.9L504.3,621.7L504.5,619.3L505,616.8L505.6,614.3L506.5,611.7L507.6,609.1L508.8,606.5L510.3,604L511.9,601.6L513.6,599.2L515.5,597L517.5,594.9L519.6,593L521.7,591.3L523.8,589.8L526,588.6L528.2,587.6L530.3,586.8L532.4,586.3L534.3,586.1L536.2,586.1L538,586.4L539.6,587L541.1,587.8L542.3,588.9L543.4,590.2L544.3,591.8L545,593.5L545.5,595.5L545.7,597.6L545.7,599.8L545.5,602.2L545,604.7L544.4,607.2L543.5,609.8L542.4,612.4L541.2,615L539.7,617.5Z" fill="#111" stroke="#111" stroke-width="0.6" />
<path d="M537.4,619.4L535.6,621.7L533.7,624L531.8,626L529.7,627.9L527.6,629.6L525.4,631.1L523.2,632.4L521.1,633.4L519,634.2L516.9,634.7L514.9,634.9L513,634.9L511.3,634.6L509.6,634L508.2,633.1L506.9,632.1L505.8,630.7L504.9,629.2L504.2,627.4L503.8,625.5L503.6,623.4L503.5,621.1L503.8,618.7L504.2,616.3L504.9,613.7L505.7,611.2L506.8,608.6L508.1,606L509.5,603.5L511.1,601L512.9,598.7L514.8,596.5L516.7,594.4L518.8,592.5L520.9,590.8L523.1,589.3L525.3,588L527.4,587L529.5,586.3L531.6,585.8L533.6,585.5L535.5,585.6L537.2,585.9L538.9,586.4L540.3,587.3L541.6,588.4L542.7,589.7L543.6,591.2L544.3,593L544.7,594.9L544.9,597L545,599.3L544.7,601.7L544.3,604.2L543.6,606.7L542.8,609.3L541.7,611.8L540.4,614.4L539,616.9Z" fill="#111" stroke="#111" stroke-width="0.6" />
<path d="M536.6,618.8L534.9,621.2L533,623.4L531,625.5L528.9,627.4L526.8,629.1L524.7,630.6L522.5,631.8L520.3,632.9L518.2,633.6L516.1,634.1L514.2,634.4L512.3,634.3L510.5,634L508.9,633.4L507.4,632.6L506.2,631.5L505.1,630.2L504.2,628.6L503.5,626.9L503,624.9L502.8,622.8L502.8,620.6L503,618.2L503.5,615.7L504.1,613.2L505,610.6L506.1,608L507.3,605.5L508.8,602.9L510.4,600.5L512.1,598.1L514,595.9L516,593.9L518.1,592L520.2,590.3L522.3,588.8L524.5,587.5L526.7,586.5L528.8,585.7L530.9,585.2L532.8,585L534.7,585L536.5,585.3L538.1,585.9L539.6,586.7L540.8,587.8L541.9,589.1L542.8,590.7L543.5,592.4L544,594.4L544.2,596.5L544.2,598.8L544,601.1L543.5,603.6L542.9,606.1L542,608.7L540.9,611.3L539.7,613.9L538.2,616.4Z" fill="#111" stroke="#111" stroke-width="0.6" />
<path d="M535.9,618.3L534.1,620.6L532.2,622.9L530.3,624.9L528.2,626.8L526.1,628.5L523.9,630L521.7,631.3L519.6,632.3L517.5,633.1L515.4,633.6L513.4,633.8L511.5,633.8L509.8,633.5L508.1,632.9L506.7,632.1L505.4,631L504.3,629.7L503.4,628.1L502.7,626.3L502.3,624.4L502.1,622.3L502,620L502.3,617.7L502.7,615.2L503.4,612.6L504.2,610.1L505.3,607.5L506.6,604.9L508,602.4L509.6,599.9L511.4,597.6L513.3,595.4L515.2,593.3L517.3,591.4L519.4,589.7L521.6,588.2L523.8,587L525.9,585.9L528,585.2L530.1,584.7L532.1,584.4L534,584.5L535.7,584.8L537.4,585.4L538.8,586.2L540.1,587.3L541.2,588.6L542.1,590.1L542.8,591.9L543.2,593.9L543.4,596L543.5,598.2L543.2,600.6L542.8,603.1L542.1,605.6L541.3,608.2L540.2,610.8L538.9,613.3L537.5,615.9Z" fill="#111" stroke="#111" stroke-width="0.6" />
<path d="M535.1,617.8L533.4,620.1L531.5,622.3L529.5,624.4L527.4,626.3L525.3,628L523.2,629.5L521,630.8L518.8,631.8L516.7,632.5L514.6,633L512.7,633.3L510.8,633.2L509,632.9L507.4,632.4L505.9,631.5L504.7,630.4L503.6,629.1L502.7,627.6L502,625.8L501.5,623.9L501.3,621.7L501.3,619.5L501.5,617.1L502,614.6L502.6,612.1L503.5,609.5L504.6,606.9L505.8,604.4L507.3,601.9L508.9,599.4L510.6,597.1L512.5,594.8L514.5,592.8L516.6,590.9L518.7,589.2L520.8,587.7L523,586.4L525.2,585.4L527.3,584.6L529.4,584.1L531.3,583.9L533.2,583.9L535,584.2L536.6,584.8L538.1,585.6L539.3,586.7L540.4,588.1L541.3,589.6L542,591.4L542.5,593.3L542.7,595.4L542.7,597.7L542.5,600.1L542,602.5L541.4,605.1L540.5,607.6L539.4,610.2L538.2,612.8L536.7,615.3Z" fill="#111" stroke="#111" stroke-width="0.6" />
<path d="M534.4,617.2L532.6,619.6L530.7,621.8L528.8,623.9L526.7,625.8L524.6,627.5L522.4,628.9L520.2,630.2L518.1,631.2L516,632L513.9,632.5L511.9,632.7L510,632.7L508.3,632.4L506.6,631.8L505.2,631L503.9,629.9L502.8,628.6L501.9,627L501.2,625.3L500.8,623.3L500.6,621.2L500.5,618.9L500.8,616.6L501.2,614.1L501.9,611.6L502.7,609L503.8,606.4L505.1,603.8L506.5,601.3L508.1,598.9L509.9,596.5L511.8,594.3L513.7,592.2L515.8,590.3L517.9,588.6L520.1,587.1L522.3,585.9L524.4,584.9L526.5,584.1L528.6,583.6L530.6,583.4L532.5,583.4L534.2,583.7L535.9,584.3L537.3,585.1L538.6,586.2L539.7,587.5L540.6,589.1L541.3,590.8L541.7,592.8L541.9,594.9L542,597.1L541.7,599.5L541.3,602L540.6,604.5L539.8,607.1L538.7,609.7L537.4,612.2L536,614.8Z" fill="#111" stroke="#111" stroke-width="0.6" />
<path d="M533.6,616.7L531.9,619L530,621.2L528,623.3L525.9,625.2L523.8,626.9L521.7,628.4L519.5,629.7L517.3,630.7L515.2,631.5L513.1,632L511.2,632.2L509.3,632.1L507.5,631.8L505.9,631.3L504.4,630.4L503.2,629.4L502.1,628L501.2,626.5L500.5,624.7L500,622.8L499.8,620.7L499.8,618.4L500,616L500.5,613.6L501.1,611L502,608.4L503.1,605.9L504.3,603.3L505.8,600.8L507.4,598.3L509.1,596L511,593.8L513,591.7L515.1,589.8L517.2,588.1L519.3,586.6L521.5,585.3L523.7,584.3L525.8,583.5L527.9,583L529.8,582.8L531.7,582.9L533.5,583.2L535.1,583.7L536.6,584.6L537.8,585.6L538.9,587L539.8,588.5L540.5,590.3L541,592.2L541.2,594.3L541.2,596.6L541,599L540.5,601.4L539.9,604L539,606.6L537.9,609.1L536.7,611.7L535.2,614.2Z" fill="#111" stroke="#111" stroke-width="0.6" />
<path d="M534.2,615.6L534.1,620.1L532.8,622.1L531.1,623.6L527.4,623.7Z" fill="#fff" stroke="#111" stroke-width="2.2" />
<path d="M525.5,625.4L523.4,630.5L521.7,631.9L520,632.6L517.6,630.4Z" fill="#fff" stroke="#111" stroke-width="2.2" />
<path d="M515.6,631.1L512.1,635.6L510.4,636.2L509,635.9L508.5,631.8Z" fill="#fff" stroke="#111" stroke-width="2.2" />
<path d="M506.9,631.4L502.7,634.3L501.4,633.9L500.6,632.7L502.1,627.6Z" fill="#fff" stroke="#111" stroke-width="2.2" />
<path d="M501.3,626.2L497.4,626.9L496.7,625.5L496.8,623.7L500,618.9Z" fill="#fff" stroke="#111" stroke-width="2.2" />
<path d="M500.1,616.7L497.3,615L497.5,613.1L498.4,611L502.5,607.5Z" fill="#fff" stroke="#111" stroke-width="2.2" />
<path d="M503.6,605.2L502.6,601.4L503.6,599.3L505.1,597.5L509.2,596.2Z" fill="#fff" stroke="#111" stroke-width="2.2" />
<path d="M510.9,594.1L512,589.2L513.5,587.4L515.3,586.3L518.5,587.4Z" fill="#fff" stroke="#111" stroke-width="2.2" />
<path d="M520.4,586.1L523.3,581.2L525.1,580.1L526.7,579.9L528.2,583.2Z" fill="#fff" stroke="#111" stroke-width="2.2" />
<path d="M530,583.1L534,579.2L535.6,579.1L536.7,579.9L536.1,584.6Z" fill="#fff" stroke="#111" stroke-width="2.2" />
<path d="M537.4,585.6L541.6,583.7L542.6,584.6L543,586.2L540.5,591.3Z" fill="#fff" stroke="#111" stroke-width="2.2" />
<path d="M540.9,593.1L544.3,593.7L544.6,595.3L544.1,597.4L540.3,601.6Z" fill="#fff" stroke="#111" stroke-width="2.2" />
<path d="M539.7,603.9L541.6,606.8L541.1,608.9L539.8,610.9L535.6,613.3Z" fill="#fff" stroke="#111" stroke-width="2.2" />
<path d="M534.2,615.6L534.1,620.1L532.8,622.1L531.1,623.6L527.4,623.7L536.4,630.2L540.1,630.1L541.8,628.6L543.1,626.6L543.2,622.1Z" fill="#fff" stroke="#111" stroke-width="2.2" />
<path d="M525.5,625.4L523.4,630.5L521.7,631.9L520,632.6L517.6,630.4L526.6,636.9L529,639.1L530.7,638.4L532.4,637L534.5,631.9Z" fill="#fff" stroke="#111" stroke-width="2.2" />
<path d="M515.6,631.1L512.1,635.6L510.4,636.2L509,635.9L508.5,631.8L517.5,638.3L518,642.4L519.4,642.7L521.1,642.1L524.6,637.6Z" fill="#fff" stroke="#111" stroke-width="2.2" />
<path d="M506.9,631.4L502.7,634.3L501.4,633.9L500.6,632.7L502.1,627.6L511.1,634.1L509.6,639.2L510.4,640.4L511.7,640.8L515.9,637.9Z" fill="#fff" stroke="#111" stroke-width="2.2" />
<path d="M501.3,626.2L497.4,626.9L496.7,625.5L496.8,623.7L500,618.9L509,625.4L505.8,630.2L505.7,632L506.4,633.4L510.3,632.7Z" fill="#fff" stroke="#111" stroke-width="2.2" />
<path d="M500.1,616.7L497.3,615L497.5,613.1L498.4,611L502.5,607.5L511.5,614L507.4,617.5L506.5,619.6L506.3,621.5L509.1,623.2Z" fill="#fff" stroke="#111" stroke-width="2.2" />
<path d="M503.6,605.2L502.6,601.4L503.6,599.3L505.1,597.5L509.2,596.2L518.2,602.7L514.1,604L512.6,605.8L511.6,607.9L512.6,611.7Z" fill="#fff" stroke="#111" stroke-width="2.2" />
<path d="M510.9,594.1L512,589.2L513.5,587.4L515.3,586.3L518.5,587.4L527.5,593.9L524.3,592.8L522.5,593.9L521,595.7L519.9,600.6Z" fill="#fff" stroke="#111" stroke-width="2.2" />
<path d="M520.4,586.1L523.3,581.2L525.1,580.1L526.7,579.9L528.2,583.2L537.2,589.7L535.7,586.4L534.1,586.6L532.3,587.7L529.4,592.6Z" fill="#fff" stroke="#111" stroke-width="2.2" />
<path d="M530,583.1L534,579.2L535.6,579.1L536.7,579.9L536.1,584.6L545.1,591.1L545.7,586.4L544.6,585.6L543,585.7L539,589.6Z" fill="#fff" stroke="#111" stroke-width="2.2" />
<path d="M537.4,585.6L541.6,583.7L542.6,584.6L543,586.2L540.5,591.3L549.5,597.8L552,592.7L551.6,591.1L550.6,590.2L546.4,592.1Z" fill="#fff" stroke="#111" stroke-width="2.2" />
<path d="M540.9,593.1L544.3,593.7L544.6,595.3L544.1,597.4L540.3,601.6L549.3,608.1L553.1,603.9L553.6,601.8L553.3,600.2L549.9,599.6Z" fill="#fff" stroke="#111" stroke-width="2.2" />
<path d="M539.7,603.9L541.6,606.8L541.1,608.9L539.8,610.9L535.6,613.3L544.6,619.8L548.8,617.4L550.1,615.4L550.6,613.3L548.7,610.4Z" fill="#fff" stroke="#111" stroke-width="2.2" />
<path d="M543.2,622.1L543.1,626.6L541.8,628.6L540.1,630.1L536.4,630.2Z" fill="#fff" stroke="#111" stroke-width="2.2" />
<path d="M534.5,631.9L532.4,637L530.7,638.4L529,639.1L526.6,636.9Z" fill="#fff" stroke="#111" stroke-width="2.2" />
<path d="M524.6,637.6L521.1,642.1L519.4,642.7L518,642.4L517.5,638.3Z" fill="#fff" stroke="#111" stroke-width="2.2" />
<path d="M515.9,637.9L511.7,640.8L510.4,640.4L509.6,639.2L511.1,634.1Z" fill="#fff" stroke="#111" stroke-width="2.2" />
<path d="M510.3,632.7L506.4,633.4L505.7,632L505.8,630.2L509,625.4Z" fill="#fff" stroke="#111" stroke-width="2.2" />
<path d="M509.1,623.2L506.3,621.5L506.5,619.6L507.4,617.5L511.5,614Z" fill="#fff" stroke="#111" stroke-width="2.2" />
<path d="M512.6,611.7L511.6,607.9L512.6,605.8L514.1,604L518.2,602.7Z" fill="#fff" stroke="#111" stroke-width="2.2" />
<path d="M519.9,600.6L521,595.7L522.5,593.9L524.3,592.8L527.5,593.9Z" fill="#fff" stroke="#111" stroke-width="2.2" />
<path d="M529.4,592.6L532.3,587.7L534.1,586.6L535.7,586.4L537.2,589.7Z" fill="#fff" stroke="#111" stroke-width="2.2" />
<path d="M539,589.6L543,585.7L544.6,585.6L545.7,586.4L545.1,591.1Z" fill="#fff" stroke="#111" stroke-width="2.2" />
<path d="M546.4,592.1L550.6,590.2L551.6,591.1L552,592.7L549.5,597.8Z" fill="#fff" stroke="#111" stroke-width="2.2" />
<path d="M549.9,599.6L553.3,600.2L553.6,601.8L553.1,603.9L549.3,608.1Z" fill="#fff" stroke="#111" stroke-width="2.2" />
<path d="M548.7,610.4L550.6,613.3L550.1,615.4L548.8,617.4L544.6,619.8Z" fill="#fff" stroke="#111" stroke-width="2.2" />
<path d="M542.6,623.2L541.3,624.9L539.9,626.7L538.5,628.3L537,629.8L535.5,631.3L533.9,632.6L532.3,633.8L530.7,634.9L529,635.9L527.4,636.7L525.8,637.4L524.2,638L522.7,638.4L521.1,638.6L519.7,638.7L518.3,638.6L516.9,638.4L515.7,638.1L514.5,637.6L513.4,636.9L512.5,636.1L511.6,635.2L510.8,634.2L510.2,633L509.6,631.7L509.2,630.3L509,628.8L508.8,627.2L508.8,625.5L508.9,623.7L509.1,621.9L509.5,620.1L509.9,618.2L510.5,616.2L511.2,614.3L512.1,612.4L513,610.4L514,608.5L515.2,606.7L516.4,604.8L517.7,603.1L519.1,601.3L520.5,599.7L522,598.2L523.5,596.7L525.1,595.4L526.7,594.2L528.3,593.1L530,592.1L531.6,591.3L533.2,590.6L534.8,590L536.3,589.6L537.9,589.4L539.3,589.3L540.7,589.4L542.1,589.6L543.3,589.9L544.5,590.4L545.6,591.1L546.5,591.9L547.4,592.8L548.2,593.8L548.8,595L549.4,596.3L549.8,597.7L550,599.2L550.2,600.8L550.2,602.5L550.1,604.3L549.9,606.1L549.5,607.9L549.1,609.8L548.5,611.8L547.8,613.7L546.9,615.6L546,617.6L545,619.5L543.8,621.3Z" fill="#fff" stroke="#111" stroke-width="2.2" />
<ellipse cx="529.5" cy="614.5" rx="13" ry="9.5" fill="#fff" stroke="#111" stroke-width="2" transform="rotate(-55 529.5 614.5)"/>
<ellipse cx="530.5" cy="614.5" rx="8" ry="5.3" fill="#fff" stroke="#111" stroke-width="2.4" transform="rotate(-55 530.5 614.5)"/>
<path d="M524.5,611 Q524.5,619 531,621" fill="none" stroke="#111" stroke-width="1.2" />
<path d="M581.5,789.8L579.2,793.2L576.7,796.4L574,799.3L571.1,802L568.2,804.4L565.1,806.5L562.1,808.3L559,809.7L555.9,810.8L552.9,811.5L550,811.8L547.1,811.7L544.5,811.3L542,810.4L539.8,809.2L537.7,807.6L536,805.7L534.4,803.5L533.2,801L532.3,798.2L531.7,795.1L531.5,791.9L531.5,788.5L531.9,784.9L532.6,781.3L533.6,777.6L534.9,773.9L536.5,770.2L538.3,766.6L540.5,763.2L542.8,759.8L545.3,756.6L548,753.7L550.9,751L553.8,748.6L556.9,746.5L559.9,744.7L563,743.3L566.1,742.2L569.1,741.5L572,741.2L574.9,741.3L577.5,741.7L580,742.6L582.2,743.8L584.3,745.4L586,747.3L587.6,749.5L588.8,752L589.7,754.8L590.3,757.9L590.5,761.1L590.5,764.5L590.1,768.1L589.4,771.7L588.4,775.4L587.1,779.1L585.5,782.8L583.7,786.4Z" fill="#111" stroke="#111" stroke-width="0.6" />
<path d="M580.6,789.2L578.3,792.5L575.8,795.7L573.1,798.6L570.2,801.3L567.3,803.7L564.2,805.9L561.1,807.6L558,809.1L555,810.1L552,810.8L549,811.1L546.2,811.1L543.6,810.6L541.1,809.8L538.8,808.5L536.8,807L535,805.1L533.5,802.8L532.3,800.3L531.4,797.5L530.8,794.5L530.5,791.2L530.6,787.8L531,784.3L531.7,780.6L532.7,776.9L534,773.3L535.6,769.6L537.4,766L539.5,762.5L541.9,759.1L544.4,756L547.1,753L550,750.3L552.9,747.9L555.9,745.8L559,744L562.1,742.6L565.2,741.5L568.2,740.8L571.1,740.5L573.9,740.6L576.6,741.1L579.1,741.9L581.3,743.1L583.4,744.7L585.1,746.6L586.6,748.8L587.8,751.4L588.8,754.2L589.3,757.2L589.6,760.5L589.6,763.9L589.2,767.4L588.5,771L587.5,774.7L586.2,778.4L584.6,782.1L582.7,785.7Z" fill="#111" stroke="#111" stroke-width="0.6" />
<path d="M579.7,788.5L577.4,791.9L574.8,795L572.1,798L569.3,800.7L566.3,803.1L563.3,805.2L560.2,807L557.1,808.4L554.1,809.5L551,810.2L548.1,810.5L545.3,810.4L542.7,809.9L540.2,809.1L537.9,807.9L535.9,806.3L534.1,804.4L532.6,802.2L531.4,799.6L530.5,796.8L529.9,793.8L529.6,790.5L529.7,787.1L530.1,783.6L530.8,780L531.8,776.3L533.1,772.6L534.7,768.9L536.5,765.3L538.6,761.8L541,758.5L543.5,755.3L546.2,752.4L549,749.7L552,747.3L555,745.1L558.1,743.4L561.2,741.9L564.3,740.9L567.3,740.2L570.2,739.9L573,739.9L575.7,740.4L578.1,741.2L580.4,742.5L582.4,744L584.2,745.9L585.7,748.2L586.9,750.7L587.8,753.5L588.4,756.5L588.7,759.8L588.6,763.2L588.3,766.7L587.6,770.4L586.6,774.1L585.3,777.7L583.7,781.4L581.8,785Z" fill="#111" stroke="#111" stroke-width="0.6" />
<path d="M578.8,787.8L576.5,791.2L573.9,794.4L571.2,797.3L568.4,800L565.4,802.4L562.4,804.5L559.3,806.3L556.2,807.7L553.1,808.8L550.1,809.5L547.2,809.8L544.4,809.7L541.7,809.3L539.3,808.4L537,807.2L535,805.6L533.2,803.7L531.7,801.5L530.5,799L529.6,796.2L529,793.1L528.7,789.9L528.8,786.5L529.1,782.9L529.8,779.3L530.8,775.6L532.1,771.9L533.7,768.2L535.6,764.6L537.7,761.2L540,757.8L542.6,754.6L545.3,751.7L548.1,749L551.1,746.6L554.1,744.5L557.2,742.7L560.3,741.3L563.4,740.2L566.4,739.5L569.3,739.2L572.1,739.3L574.8,739.7L577.2,740.6L579.5,741.8L581.5,743.4L583.3,745.3L584.8,747.5L586,750L586.9,752.8L587.5,755.9L587.8,759.1L587.7,762.5L587.4,766.1L586.7,769.7L585.7,773.4L584.4,777.1L582.8,780.8L580.9,784.4Z" fill="#111" stroke="#111" stroke-width="0.6" />
<path d="M577.9,787.2L575.5,790.5L573,793.7L570.3,796.6L567.5,799.3L564.5,801.7L561.5,803.9L558.4,805.6L555.3,807.1L552.2,808.1L549.2,808.8L546.3,809.1L543.5,809.1L540.8,808.6L538.4,807.8L536.1,806.5L534.1,805L532.3,803.1L530.8,800.8L529.6,798.3L528.7,795.5L528.1,792.5L527.8,789.2L527.9,785.8L528.2,782.3L528.9,778.6L529.9,774.9L531.2,771.3L532.8,767.6L534.7,764L536.8,760.5L539.1,757.1L541.7,754L544.4,751L547.2,748.3L550.2,745.9L553.2,743.8L556.3,742L559.4,740.6L562.4,739.5L565.5,738.8L568.4,738.5L571.2,738.6L573.8,739.1L576.3,739.9L578.6,741.1L580.6,742.7L582.4,744.6L583.9,746.8L585.1,749.4L586,752.2L586.6,755.2L586.9,758.5L586.8,761.9L586.4,765.4L585.7,769L584.7,772.7L583.4,776.4L581.8,780.1L580,783.7Z" fill="#111" stroke="#111" stroke-width="0.6" />
<path d="M577,786.5L574.6,789.9L572.1,793L569.4,796L566.5,798.7L563.6,801.1L560.6,803.2L557.5,805L554.4,806.4L551.3,807.5L548.3,808.2L545.4,808.5L542.6,808.4L539.9,807.9L537.4,807.1L535.2,805.9L533.1,804.3L531.4,802.4L529.9,800.2L528.7,797.6L527.7,794.8L527.2,791.8L526.9,788.5L526.9,785.1L527.3,781.6L528,778L529,774.3L530.3,770.6L531.9,766.9L533.8,763.3L535.9,759.8L538.2,756.5L540.7,753.3L543.4,750.4L546.3,747.7L549.2,745.3L552.3,743.1L555.4,741.4L558.5,739.9L561.5,738.9L564.5,738.2L567.5,737.9L570.3,737.9L572.9,738.4L575.4,739.2L577.7,740.5L579.7,742L581.5,743.9L583,746.2L584.2,748.7L585.1,751.5L585.7,754.5L586,757.8L585.9,761.2L585.5,764.7L584.8,768.4L583.8,772.1L582.5,775.7L580.9,779.4L579.1,783Z" fill="#111" stroke="#111" stroke-width="0.6" />
<path d="M576,785.8L573.7,789.2L571.2,792.4L568.5,795.3L565.6,798L562.7,800.4L559.6,802.5L556.6,804.3L553.5,805.7L550.4,806.8L547.4,807.5L544.5,807.8L541.6,807.7L539,807.3L536.5,806.4L534.3,805.2L532.2,803.6L530.5,801.7L528.9,799.5L527.7,797L526.8,794.2L526.2,791.1L526,787.9L526,784.5L526.4,780.9L527.1,777.3L528.1,773.6L529.4,769.9L531,766.2L532.8,762.6L535,759.2L537.3,755.8L539.8,752.6L542.5,749.7L545.4,747L548.3,744.6L551.4,742.5L554.4,740.7L557.5,739.3L560.6,738.2L563.6,737.5L566.5,737.2L569.4,737.3L572,737.7L574.5,738.6L576.7,739.8L578.8,741.4L580.5,743.3L582.1,745.5L583.3,748L584.2,750.8L584.8,753.9L585,757.1L585,760.5L584.6,764.1L583.9,767.7L582.9,771.4L581.6,775.1L580,778.8L578.2,782.4Z" fill="#111" stroke="#111" stroke-width="0.6" />
<path d="M575.1,785.2L572.8,788.5L570.3,791.7L567.6,794.6L564.7,797.3L561.8,799.7L558.7,801.9L555.6,803.6L552.5,805.1L549.5,806.1L546.5,806.8L543.5,807.1L540.7,807.1L538.1,806.6L535.6,805.8L533.3,804.5L531.3,803L529.5,801.1L528,798.8L526.8,796.3L525.9,793.5L525.3,790.5L525,787.2L525.1,783.8L525.5,780.3L526.2,776.6L527.2,772.9L528.5,769.3L530.1,765.6L531.9,762L534,758.5L536.4,755.1L538.9,752L541.6,749L544.5,746.3L547.4,743.9L550.4,741.8L553.5,740L556.6,738.6L559.7,737.5L562.7,736.8L565.6,736.5L568.4,736.6L571.1,737.1L573.6,737.9L575.8,739.1L577.9,740.7L579.6,742.6L581.1,744.8L582.3,747.4L583.3,750.2L583.8,753.2L584.1,756.5L584.1,759.9L583.7,763.4L583,767L582,770.7L580.7,774.4L579.1,778.1L577.2,781.7Z" fill="#111" stroke="#111" stroke-width="0.6" />
<path d="M574.2,784.5L571.9,787.9L569.3,791L566.6,794L563.8,796.7L560.8,799.1L557.8,801.2L554.7,803L551.6,804.4L548.6,805.5L545.5,806.2L542.6,806.5L539.8,806.4L537.2,805.9L534.7,805.1L532.4,803.9L530.4,802.3L528.6,800.4L527.1,798.2L525.9,795.6L525,792.8L524.4,789.8L524.1,786.5L524.2,783.1L524.6,779.6L525.3,776L526.3,772.3L527.6,768.6L529.2,764.9L531,761.3L533.1,757.8L535.5,754.5L538,751.3L540.7,748.4L543.5,745.7L546.5,743.3L549.5,741.1L552.6,739.4L555.7,737.9L558.8,736.9L561.8,736.2L564.7,735.9L567.5,735.9L570.2,736.4L572.6,737.2L574.9,738.5L576.9,740L578.7,741.9L580.2,744.2L581.4,746.7L582.3,749.5L582.9,752.5L583.2,755.8L583.1,759.2L582.8,762.7L582.1,766.4L581.1,770.1L579.8,773.7L578.2,777.4L576.3,781Z" fill="#111" stroke="#111" stroke-width="0.6" />
<path d="M573.3,783.8L571,787.2L568.4,790.4L565.7,793.3L562.9,796L559.9,798.4L556.9,800.5L553.8,802.3L550.7,803.7L547.6,804.8L544.6,805.5L541.7,805.8L538.9,805.7L536.2,805.3L533.8,804.4L531.5,803.2L529.5,801.6L527.7,799.7L526.2,797.5L525,795L524.1,792.2L523.5,789.1L523.2,785.9L523.3,782.5L523.6,778.9L524.3,775.3L525.3,771.6L526.6,767.9L528.2,764.2L530.1,760.6L532.2,757.2L534.5,753.8L537.1,750.6L539.8,747.7L542.6,745L545.6,742.6L548.6,740.5L551.7,738.7L554.8,737.3L557.9,736.2L560.9,735.5L563.8,735.2L566.6,735.3L569.3,735.7L571.7,736.6L574,737.8L576,739.4L577.8,741.3L579.3,743.5L580.5,746L581.4,748.8L582,751.9L582.3,755.1L582.2,758.5L581.9,762.1L581.2,765.7L580.2,769.4L578.9,773.1L577.3,776.8L575.4,780.4Z" fill="#111" stroke="#111" stroke-width="0.6" />
<path d="M572.4,783.2L570,786.5L567.5,789.7L564.8,792.6L562,795.3L559,797.7L556,799.9L552.9,801.6L549.8,803.1L546.7,804.1L543.7,804.8L540.8,805.1L538,805.1L535.3,804.6L532.9,803.8L530.6,802.5L528.6,801L526.8,799.1L525.3,796.8L524.1,794.3L523.2,791.5L522.6,788.5L522.3,785.2L522.4,781.8L522.7,778.3L523.4,774.6L524.4,770.9L525.7,767.3L527.3,763.6L529.2,760L531.3,756.5L533.6,753.1L536.2,750L538.9,747L541.7,744.3L544.7,741.9L547.7,739.8L550.8,738L553.9,736.6L556.9,735.5L560,734.8L562.9,734.5L565.7,734.6L568.3,735.1L570.8,735.9L573.1,737.1L575.1,738.7L576.9,740.6L578.4,742.8L579.6,745.4L580.5,748.2L581.1,751.2L581.4,754.5L581.3,757.9L580.9,761.4L580.2,765L579.2,768.7L577.9,772.4L576.3,776.1L574.5,779.7Z" fill="#111" stroke="#111" stroke-width="0.6" />
<path d="M571.5,782.5L569.1,785.9L566.6,789L563.9,792L561,794.7L558.1,797.1L555.1,799.2L552,801L548.9,802.4L545.8,803.5L542.8,804.2L539.9,804.5L537.1,804.4L534.4,803.9L531.9,803.1L529.7,801.9L527.6,800.3L525.9,798.4L524.4,796.2L523.2,793.6L522.2,790.8L521.7,787.8L521.4,784.5L521.4,781.1L521.8,777.6L522.5,774L523.5,770.3L524.8,766.6L526.4,762.9L528.3,759.3L530.4,755.8L532.7,752.5L535.2,749.3L537.9,746.4L540.8,743.7L543.7,741.3L546.8,739.1L549.9,737.4L553,735.9L556,734.9L559,734.2L562,733.9L564.8,733.9L567.4,734.4L569.9,735.2L572.2,736.5L574.2,738L576,739.9L577.5,742.2L578.7,744.7L579.6,747.5L580.2,750.5L580.5,753.8L580.4,757.2L580,760.7L579.3,764.4L578.3,768.1L577,771.7L575.4,775.4L573.6,779Z" fill="#111" stroke="#111" stroke-width="0.6" />
<path d="M570.5,781.8L568.2,785.2L565.7,788.4L563,791.3L560.1,794L557.2,796.4L554.1,798.5L551.1,800.3L548,801.7L544.9,802.8L541.9,803.5L539,803.8L536.1,803.7L533.5,803.3L531,802.4L528.8,801.2L526.7,799.6L525,797.7L523.4,795.5L522.2,793L521.3,790.2L520.7,787.1L520.5,783.9L520.5,780.5L520.9,776.9L521.6,773.3L522.6,769.6L523.9,765.9L525.5,762.2L527.3,758.6L529.5,755.2L531.8,751.8L534.3,748.6L537,745.7L539.9,743L542.8,740.6L545.9,738.5L548.9,736.7L552,735.3L555.1,734.2L558.1,733.5L561,733.2L563.9,733.3L566.5,733.7L569,734.6L571.2,735.8L573.3,737.4L575,739.3L576.6,741.5L577.8,744L578.7,746.8L579.3,749.9L579.5,753.1L579.5,756.5L579.1,760.1L578.4,763.7L577.4,767.4L576.1,771.1L574.5,774.8L572.7,778.4Z" fill="#111" stroke="#111" stroke-width="0.6" />
<path d="M572.2,778.6L572.4,784.4L570.8,787.3L568.6,789.5L563.4,790.5Z" fill="#fff" stroke="#111" stroke-width="2.2" />
<path d="M560.8,793L558.4,799.4L556.2,801.6L553.7,802.7L549.8,800.6Z" fill="#fff" stroke="#111" stroke-width="2.2" />
<path d="M546.9,801.8L542.6,807.4L540.2,808.3L538,808L536.2,803.4Z" fill="#fff" stroke="#111" stroke-width="2.2" />
<path d="M533.8,802.9L528.5,806.4L526.4,805.9L525.1,804.3L525.8,798.1Z" fill="#fff" stroke="#111" stroke-width="2.2" />
<path d="M524.3,796.2L519.2,796.7L518,795L517.8,792.4L520.9,786.1Z" fill="#fff" stroke="#111" stroke-width="2.2" />
<path d="M520.7,783.1L517.1,780.6L517,777.9L517.9,775L522.7,770Z" fill="#fff" stroke="#111" stroke-width="2.2" />
<path d="M523.9,766.7L522.5,761.7L523.5,758.7L525.4,756.1L530.8,753.6Z" fill="#fff" stroke="#111" stroke-width="2.2" />
<path d="M533,750.6L534.1,744.4L536.1,741.8L538.5,740.1L543.2,740.6Z" fill="#fff" stroke="#111" stroke-width="2.2" />
<path d="M546,738.7L549.5,732.6L551.9,731L554.2,730.5L557.2,734Z" fill="#fff" stroke="#111" stroke-width="2.2" />
<path d="M559.9,733.6L564.9,729L567.2,728.7L569,729.7L569.6,735.3Z" fill="#fff" stroke="#111" stroke-width="2.2" />
<path d="M571.6,736.5L576.9,734.5L578.6,735.6L579.4,737.8L577.4,744.2Z" fill="#fff" stroke="#111" stroke-width="2.2" />
<path d="M578.3,746.7L582.8,747.8L583.5,750L583.1,752.8L579,758.6Z" fill="#fff" stroke="#111" stroke-width="2.2" />
<path d="M578.5,761.9L581.1,765.8L580.6,768.7L579.2,771.5L573.9,775.4Z" fill="#fff" stroke="#111" stroke-width="2.2" />
<path d="M572.2,778.6L572.4,784.4L570.8,787.3L568.6,789.5L563.4,790.5L574.4,798.5L579.6,797.5L581.8,795.3L583.4,792.4L583.2,786.6Z" fill="#fff" stroke="#111" stroke-width="2.2" />
<path d="M560.8,793L558.4,799.4L556.2,801.6L553.7,802.7L549.8,800.6L560.8,808.6L564.7,810.7L567.2,809.6L569.4,807.4L571.8,801Z" fill="#fff" stroke="#111" stroke-width="2.2" />
<path d="M546.9,801.8L542.6,807.4L540.2,808.3L538,808L536.2,803.4L547.2,811.4L549,816L551.2,816.3L553.6,815.4L557.9,809.8Z" fill="#fff" stroke="#111" stroke-width="2.2" />
<path d="M533.8,802.9L528.5,806.4L526.4,805.9L525.1,804.3L525.8,798.1L536.8,806.1L536.1,812.3L537.4,813.9L539.5,814.4L544.8,810.9Z" fill="#fff" stroke="#111" stroke-width="2.2" />
<path d="M524.3,796.2L519.2,796.7L518,795L517.8,792.4L520.9,786.1L531.9,794.1L528.8,800.4L529,803L530.2,804.7L535.3,804.2Z" fill="#fff" stroke="#111" stroke-width="2.2" />
<path d="M520.7,783.1L517.1,780.6L517,777.9L517.9,775L522.7,770L533.7,778L528.9,783L528,785.9L528.1,788.6L531.7,791.1Z" fill="#fff" stroke="#111" stroke-width="2.2" />
<path d="M523.9,766.7L522.5,761.7L523.5,758.7L525.4,756.1L530.8,753.6L541.8,761.6L536.4,764.1L534.5,766.7L533.5,769.7L534.9,774.7Z" fill="#fff" stroke="#111" stroke-width="2.2" />
<path d="M533,750.6L534.1,744.4L536.1,741.8L538.5,740.1L543.2,740.6L554.2,748.6L549.5,748.1L547.1,749.8L545.1,752.4L544,758.6Z" fill="#fff" stroke="#111" stroke-width="2.2" />
<path d="M546,738.7L549.5,732.6L551.9,731L554.2,730.5L557.2,734L568.2,742L565.2,738.5L562.9,739L560.5,740.6L557,746.7Z" fill="#fff" stroke="#111" stroke-width="2.2" />
<path d="M559.9,733.6L564.9,729L567.2,728.7L569,729.7L569.6,735.3L580.6,743.3L580,737.7L578.2,736.7L575.9,737L570.9,741.6Z" fill="#fff" stroke="#111" stroke-width="2.2" />
<path d="M571.6,736.5L576.9,734.5L578.6,735.6L579.4,737.8L577.4,744.2L588.4,752.2L590.4,745.8L589.6,743.6L587.9,742.5L582.6,744.5Z" fill="#fff" stroke="#111" stroke-width="2.2" />
<path d="M578.3,746.7L582.8,747.8L583.5,750L583.1,752.8L579,758.6L590,766.6L594.1,760.8L594.5,758L593.8,755.8L589.3,754.7Z" fill="#fff" stroke="#111" stroke-width="2.2" />
<path d="M578.5,761.9L581.1,765.8L580.6,768.7L579.2,771.5L573.9,775.4L584.9,783.4L590.2,779.5L591.6,776.7L592.1,773.8L589.5,769.9Z" fill="#fff" stroke="#111" stroke-width="2.2" />
<path d="M583.2,786.6L583.4,792.4L581.8,795.3L579.6,797.5L574.4,798.5Z" fill="#fff" stroke="#111" stroke-width="2.2" />
<path d="M571.8,801L569.4,807.4L567.2,809.6L564.7,810.7L560.8,808.6Z" fill="#fff" stroke="#111" stroke-width="2.2" />
<path d="M557.9,809.8L553.6,815.4L551.2,816.3L549,816L547.2,811.4Z" fill="#fff" stroke="#111" stroke-width="2.2" />
<path d="M544.8,810.9L539.5,814.4L537.4,813.9L536.1,812.3L536.8,806.1Z" fill="#fff" stroke="#111" stroke-width="2.2" />
<path d="M535.3,804.2L530.2,804.7L529,803L528.8,800.4L531.9,794.1Z" fill="#fff" stroke="#111" stroke-width="2.2" />
<path d="M531.7,791.1L528.1,788.6L528,785.9L528.9,783L533.7,778Z" fill="#fff" stroke="#111" stroke-width="2.2" />
<path d="M534.9,774.7L533.5,769.7L534.5,766.7L536.4,764.1L541.8,761.6Z" fill="#fff" stroke="#111" stroke-width="2.2" />
<path d="M544,758.6L545.1,752.4L547.1,749.8L549.5,748.1L554.2,748.6Z" fill="#fff" stroke="#111" stroke-width="2.2" />
<path d="M557,746.7L560.5,740.6L562.9,739L565.2,738.5L568.2,742Z" fill="#fff" stroke="#111" stroke-width="2.2" />
<path d="M570.9,741.6L575.9,737L578.2,736.7L580,737.7L580.6,743.3Z" fill="#fff" stroke="#111" stroke-width="2.2" />
<path d="M582.6,744.5L587.9,742.5L589.6,743.6L590.4,745.8L588.4,752.2Z" fill="#fff" stroke="#111" stroke-width="2.2" />
<path d="M589.3,754.7L593.8,755.8L594.5,758L594.1,760.8L590,766.6Z" fill="#fff" stroke="#111" stroke-width="2.2" />
<path d="M589.5,769.9L592.1,773.8L591.6,776.7L590.2,779.5L584.9,783.4Z" fill="#fff" stroke="#111" stroke-width="2.2" />
<path d="M581.5,789.8L579.8,792.4L578,794.8L576,797.1L574,799.3L571.9,801.3L569.7,803.2L567.4,805L565.1,806.5L562.8,807.9L560.5,809.1L558.2,810L555.9,810.8L553.6,811.4L551.4,811.7L549.2,811.8L547.1,811.7L545.1,811.4L543.2,810.9L541.4,810.2L539.8,809.2L538.2,808.1L536.8,806.7L535.5,805.2L534.4,803.5L533.5,801.6L532.7,799.6L532.2,797.4L531.7,795.1L531.5,792.7L531.5,790.2L531.6,787.6L531.9,784.9L532.4,782.2L533,779.5L533.9,776.7L534.9,773.9L536.1,771.2L537.4,768.4L538.8,765.8L540.5,763.2L542.2,760.6L544,758.2L546,755.9L548,753.7L550.1,751.7L552.3,749.8L554.6,748L556.9,746.5L559.2,745.1L561.5,743.9L563.8,743L566.1,742.2L568.4,741.6L570.6,741.3L572.8,741.2L574.9,741.3L576.9,741.6L578.8,742.1L580.6,742.8L582.2,743.8L583.8,744.9L585.2,746.3L586.5,747.8L587.6,749.5L588.5,751.4L589.3,753.4L589.8,755.6L590.3,757.9L590.5,760.3L590.5,762.8L590.4,765.4L590.1,768.1L589.6,770.8L589,773.5L588.1,776.3L587.1,779.1L585.9,781.8L584.6,784.6L583.2,787.2Z" fill="#fff" stroke="#111" stroke-width="2.2" />
<ellipse cx="561" cy="777" rx="18.5" ry="12.5" fill="#fff" stroke="#111" stroke-width="1.6" transform="rotate(-57 561 777)"/>
<path d="M549,768 Q545,781 552,790" fill="none" stroke="#111" stroke-width="1.4" />
<path d="M562.5,775.5 Q559,776 559.5,780 Q560,782 562,781.5" fill="none" stroke="#111" stroke-width="1.5" />
<g transform="translate(430,490) scale(0.20000)"><path d="M420,200 Q440,165 540,150 Q575,152 605,182 L790,330 Q815,350 822,362 Q800,388 760,393 Q728,390 700,362 Q680,332 652,322 Q630,322 610,335 L345,420 Q315,428 298,410 L296,345 Q270,335 240,352 Q200,375 188,410 Q215,395 250,412 Q280,430 282,460 Q272,492 235,492 Q215,515 185,515 Q150,510 145,470 Q140,420 180,380 Q230,330 290,312 L340,322 Q380,312 408,282 Q405,230 420,200 Z" fill="#fff" stroke="#111" stroke-width="11" />
<path d="M470,178 Q448,215 442,270 Q425,312 372,336 L332,338" fill="none" stroke="#111" stroke-width="7.5" />
<path d="M332,338 L333,414" fill="none" stroke="#111" stroke-width="7.5" />
<path d="M188,410 Q180,450 200,475 Q215,492 235,492" fill="none" stroke="#111" stroke-width="8" />
<ellipse cx="254" cy="466" rx="24" ry="26" fill="#fff" stroke="#111" stroke-width="9"/>
<ellipse cx="258" cy="468" rx="10" ry="12" fill="none" stroke="#111" stroke-width="6.5"/>
<ellipse cx="516" cy="270" rx="38" ry="52" fill="#fff" stroke="#111" stroke-width="11" transform="rotate(22 516 270)"/>
<path d="M500,232 Q480,262 498,305" fill="none" stroke="#111" stroke-width="6" />
<path d="M652,322 Q690,345 712,378" fill="none" stroke="#111" stroke-width="7" />
<path d="M518,262 L750,407" fill="none" stroke="#111" stroke-width="7.5" />
<path d="M296,322 Q225,342 184,394 Q157,440 165,488" fill="none" stroke="#111" stroke-width="7" />
<path d="M425,205 Q412,235 416,280" fill="none" stroke="#111" stroke-width="15" /></g>
<g transform="translate(260,570) scale(0.20000)"><path d="M150,168 L582,424 L556,468 L134,206 Z" fill="#fff" stroke="#111" stroke-width="8.5" />
<path d="M150,168 Q118,158 108,180 Q112,200 134,206" fill="#fff" stroke="#111" stroke-width="8.5" />
<ellipse cx="124" cy="182" rx="12" ry="16" fill="#bbb" stroke="#111" stroke-width="8" transform="rotate(-30 124 182)"/>
<path d="M165,177 L147,214" fill="none" stroke="#111" stroke-width="6" />
<path d="M582,424 Q600,412 620,420 L692,462 L640,548 L566,505 Q548,490 556,468 Z" fill="#fff" stroke="#111" stroke-width="9" />
<path d="M692,462 Q672,478 655,508 Q640,530 640,548" fill="none" stroke="#111" stroke-width="7" />
<path d="M668,486 L752,536 Q770,556 748,578 Q735,582 722,574 L642,528 Z" fill="#555" stroke="#111" stroke-width="8" />
<path d="M672,494 L650,532" fill="none" stroke="#eee" stroke-width="6.5" />
<path d="M685,502 L663,540" fill="none" stroke="#eee" stroke-width="6.5" />
<path d="M698,510 L676,548" fill="none" stroke="#eee" stroke-width="6.5" />
<path d="M711,518 L689,556" fill="none" stroke="#eee" stroke-width="6.5" />
<path d="M724,526 L702,564" fill="none" stroke="#eee" stroke-width="6.5" />
<path d="M737,534 L715,572" fill="none" stroke="#eee" stroke-width="6.5" />
<ellipse cx="742" cy="558" rx="17" ry="24" fill="#fff" stroke="#111" stroke-width="7.5" transform="rotate(-30 742 558)"/>
<ellipse cx="919" cy="1305" rx="42" ry="56" fill="#fff" stroke="#111" stroke-width="16" transform="rotate(25 919 1305)"/>
<ellipse cx="921" cy="1306" rx="16" ry="23" fill="#fff" stroke="#111" stroke-width="13" transform="rotate(25 921 1306)"/></g>
<ellipse cx="353.8" cy="775.6" rx="30.3" ry="42.7" fill="#fff" stroke="#111" stroke-width="2.9" transform="rotate(28.4 353.8 775.6)"/>
<path d="M344.5,815.3L342.8,815.2L341.1,815L339.4,814.7L337.7,814.2L336.2,813.6L334.7,812.9L333.2,812L331.8,811.1L330.5,810L329.3,808.8L328.1,807.5L327,806.1L326.1,804.7L325.2,803.1L324.4,801.4L323.7,799.7L323.1,797.8L322.6,795.9L322.2,794L321.9,792L321.7,789.9L321.6,787.8L321.6,785.6L321.7,783.4L322,781.2L322.3,779L322.7,776.8L323.3,774.5L323.9,772.3L324.7,770.1L325.5,767.8L326.4,765.7L327.4,763.5L328.5,761.4L329.7,759.3L331,757.3L332.3,755.4L333.7,753.5L335.2,751.7L336.8,749.9" fill="none" stroke="#111" stroke-width="3.2" />
<path d="M337.8,813.8L336.9,813.5L336.1,813.1L335.2,812.6L334.4,812.1L333.6,811.6L332.9,811L332.1,810.5L331.4,809.8L330.7,809.1L330,808.4L329.4,807.7L328.8,806.9L328.2,806.1L327.6,805.3L327.1,804.4L326.6,803.5L326.1,802.6L325.7,801.6L325.3,800.6L324.9,799.6L324.6,798.6L324.3,797.5L324,796.4L323.8,795.3L323.6,794.2L323.4,793L323.3,791.9L323.2,790.7L323.1,789.5L323.1,788.3L323.1,787L323.1,785.8L323.2,784.5L323.3,783.3L323.4,782L323.6,780.7L323.8,779.5L324,778.2L324.3,776.9L324.6,775.6" fill="none" stroke="#111" stroke-width="2.6" />
<path d="M339.8,813.2L337.7,812.3L335.7,811L333.8,809.5L332.1,807.8L330.7,805.8L329.4,803.7L328.3,801.3L327.4,798.7L326.7,796L326.3,793.1L326,790.1L326,787L326.3,783.8L326.7,780.6L327.4,777.3L328.3,774L329.3,770.8L330.6,767.6L332.1,764.4L333.8,761.3L335.6,758.3L337.6,755.5L339.8,752.8L342,750.3L344.4,747.9L346.9,745.8L349.4,743.8L352,742.2L354.6,740.7L357.3,739.5L359.9,738.6L362.6,737.9L365.2,737.6L367.7,737.5L370.2,737.6L372.5,738.1L374.8,738.8L376.9,739.8L378.9,741.1L380.7,742.6" fill="none" stroke="#111" stroke-width="0.9" />
<path d="M341.2,812.9L339,811.9L337,810.6L335.2,809.1L333.5,807.2L332.1,805.2L330.8,802.9L329.8,800.4L329,797.7L328.5,794.8L328.1,791.8L328.1,788.6L328.2,785.4L328.6,782L329.3,778.7L330.2,775.3L331.3,771.9L332.6,768.6L334.1,765.3L335.8,762.1L337.7,759L339.8,756L342,753.3L344.3,750.7L346.8,748.3L349.4,746.1L352,744.2L354.7,742.5L357.4,741.1L360.1,739.9L362.8,739.1L365.4,738.6L368,738.3L370.6,738.4L373,738.8L375.3,739.4L377.5,740.4L379.5,741.6L381.4,743.1L383.1,744.9L384.5,747" fill="none" stroke="#111" stroke-width="0.9" />
<ellipse cx="360" cy="776.6" rx="24.6" ry="39.6" fill="#fff" stroke="#111" stroke-width="1.5" transform="rotate(28.4 360 776.6)"/>
<path d="M346.1,753.7L347.7,752L349.3,750.4L350.9,748.8L352.6,747.4L354.3,746.1L356,744.9L357.8,743.8L359.5,742.9L361.3,742.1L363,741.4L364.8,740.8L366.5,740.4L368.2,740.1L369.8,739.9L371.5,739.9L373,740L374.6,740.2L376.1,740.6L377.5,741.1L378.8,741.8L380.1,742.5L381.3,743.5L382.5,744.5L383.5,745.6L384.5,746.9L385.3,748.3L386.1,749.8L386.8,751.3L387.4,753L387.8,754.8L388.2,756.6L388.5,758.5L388.6,760.5L388.7,762.6L388.6,764.7L388.5,766.8L388.2,769L387.8,771.2L387.4,773.4L386.8,775.7" fill="none" stroke="#111" stroke-width="3" />
<ellipse cx="358.2" cy="777.2" rx="19.4" ry="28.4" fill="#fff" stroke="#111" stroke-width="2.3" transform="rotate(28.4 358.2 777.2)"/>
<path d="M374.8,756.8L375.5,757.7L376.2,758.7L376.7,759.8L377.2,761L377.7,762.2L378,763.5L378.3,764.8L378.5,766.2L378.6,767.6L378.6,769.1L378.5,770.6L378.4,772.1L378.2,773.7L377.9,775.2L377.5,776.8L377.1,778.4L376.6,779.9L376,781.5L375.3,783L374.6,784.5L373.8,786L373,787.5L372.1,788.9L371.1,790.3L370.1,791.6L369,792.8L367.9,794L366.8,795.1L365.6,796.2L364.4,797.2L363.2,798.1L362,798.9L360.7,799.6L359.5,800.2L358.2,800.8L356.9,801.2L355.7,801.6L354.4,801.8L353.2,802L352,802.1" fill="none" stroke="#111" stroke-width="4.2" />
<path d="M348.1,802.7L347.4,802.5L346.7,802.2L346,801.9L345.4,801.6L344.7,801.3L344.1,800.9L343.5,800.5L342.9,800L342.3,799.5L341.8,799L341.3,798.4L340.8,797.8L340.4,797.2L339.9,796.5L339.5,795.8L339.2,795.1L338.8,794.4L338.5,793.6L338.2,792.8L338,792L337.7,791.1L337.6,790.2L337.4,789.4L337.3,788.5L337.2,787.5L337.1,786.6L337.1,785.6L337.1,784.7L337.1,783.7L337.2,782.7L337.3,781.7L337.4,780.7L337.6,779.7L337.8,778.7L338,777.7L338.3,776.6L338.6,775.6L338.9,774.6L339.3,773.6L339.6,772.6" fill="none" stroke="#111" stroke-width="3.4" />
<path d="M354.4,785.7L354.1,784.9L353.8,784.2L353.7,783.3L353.6,782.5L353.6,781.6L353.6,780.7L353.8,779.7L354,778.8L354.2,777.9L354.6,777L355,776.2L355.4,775.3L356,774.5L356.5,773.7L357.1,773L357.8,772.4L358.5,771.8L359.2,771.2L360,770.8L360.8,770.4L361.5,770.1L362.3,769.8L363.1,769.7L363.9,769.6L364.7,769.6L365.4,769.7L366.1,769.9L366.8,770.2L367.5,770.5L368.1,770.9L368.6,771.4L369.1,772L369.6,772.6L369.9,773.3L370.3,774L370.5,774.8L370.7,775.6L370.8,776.5L370.8,777.4L370.8,778.3" fill="none" stroke="#111" stroke-width="1.5" />
<ellipse cx="362.6" cy="779.4" rx="4.3" ry="5" fill="#222" stroke="#111" stroke-width="1" transform="rotate(28.4 362.6 779.4)"/>
<path d="M367,775 Q372,773 375,776" fill="none" stroke="#111" stroke-width="2.6" />
<path d="M366,785 Q371,783 373,779" fill="none" stroke="#111" stroke-width="3" />
<g transform="translate(425,810) scale(0.10000)"><path d="M430,298 L640,418 L600,492 L392,388 Q358,338 430,298 Z" fill="#fff" stroke="#111" stroke-width="21" />
<path d="M640,418 Q700,420 765,472 L722,612 Q650,582 600,492 Z" fill="#1a1a1a" stroke="#111" stroke-width="20" />
<path d="M662,462 Q640,490 648,528" fill="none" stroke="#fff" stroke-width="22" />
<path d="M700,476 Q676,505 684,545" fill="none" stroke="#fff" stroke-width="22" />
<ellipse cx="772" cy="560" rx="44" ry="100" fill="#fff" stroke="#111" stroke-width="26" transform="rotate(20 772 560)"/>
<path d="M745,480 Q715,560 745,645" fill="none" stroke="#111" stroke-width="32" />
<path d="M790,470 Q850,455 900,510 Q932,580 902,650 Q860,692 790,686 Q740,672 722,640 Q745,540 790,470 Z" fill="#fff" stroke="#111" stroke-width="24" />
<ellipse cx="857" cy="584" rx="60" ry="88" fill="#fff" stroke="#111" stroke-width="18" transform="rotate(20 857 584)"/>
<path d="M722,640 Q745,682 805,688" fill="none" stroke="#111" stroke-width="36" />
<ellipse cx="780" cy="640" rx="17" ry="19" fill="#fff" stroke="#111" stroke-width="16"/>
<path d="M790,520 Q775,560 785,610" fill="none" stroke="#111" stroke-width="14" /></g>
<g transform="translate(670,620) scale(0.08182)"><path d="M400,362 L472,400 L442,472 L380,442 Z" fill="#fff" stroke="#111" stroke-width="22" />
<path d="M436,468 L438,506" fill="none" stroke="#111" stroke-width="26.9" />
<path d="M242,222 L462,345 L420,470 L206,352 Q168,290 242,222 Z" fill="#fff" stroke="#111" stroke-width="28.1" />
<path d="M272,242 Q222,300 246,372" fill="none" stroke="#111" stroke-width="24.4" />
<path d="M312,264 Q262,322 286,394" fill="none" stroke="#111" stroke-width="24.4" />
<path d="M352,286 Q302,344 326,416" fill="none" stroke="#111" stroke-width="24.4" />
<path d="M392,308 Q342,366 366,438" fill="none" stroke="#111" stroke-width="24.4" />
<path d="M432,330 Q382,388 406,460" fill="none" stroke="#111" stroke-width="24.4" />
<path d="M420,470 L340,430" fill="none" stroke="#111" stroke-width="39.1" />
<path d="M470,402 Q500,372 556,362 L640,412" fill="none" stroke="#111" stroke-width="26.9" />
<ellipse cx="588" cy="530" rx="52" ry="112" fill="#fff" stroke="#111" stroke-width="31.8" transform="rotate(20 588 530)"/>
<path d="M560,450 Q530,540 560,625" fill="none" stroke="#111" stroke-width="36.7" />
<path d="M615,440 Q650,425 700,440 L800,420 Q870,450 895,510 Q915,600 880,680 Q820,760 720,782 Q650,760 612,700 Q590,640 600,560 Q600,480 615,440 Z" fill="#fff" stroke="#111" stroke-width="31.8" />
<ellipse cx="798" cy="602" rx="96" ry="130" fill="#fff" stroke="#111" stroke-width="24.4" transform="rotate(25 798 602)"/>
<path d="M720,782 Q650,770 612,700" fill="none" stroke="#111" stroke-width="44" />
<path d="M660,462 Q622,540 640,612 L690,640" fill="none" stroke="#111" stroke-width="22" />
<path d="M735,470 L820,448" fill="none" stroke="#111" stroke-width="22" />
<path d="M600,560 L640,612" fill="none" stroke="#111" stroke-width="22" />
<ellipse cx="648" cy="690" rx="27" ry="30" fill="#fff" stroke="#111" stroke-width="22"/></g>
<g transform="translate(200,860) scale(0.12727)"><path d="M375,375 L510,480" fill="none" stroke="#111" stroke-width="62.9" />
<ellipse cx="384.5" cy="382.4" rx="9" ry="14" fill="#fff" transform="rotate(30 384.5 382.4)"/>
<ellipse cx="402.6" cy="396.5" rx="9" ry="14" fill="#fff" transform="rotate(30 402.6 396.5)"/>
<ellipse cx="420.8" cy="410.6" rx="9" ry="14" fill="#fff" transform="rotate(30 420.8 410.6)"/>
<ellipse cx="438.9" cy="424.7" rx="9" ry="14" fill="#fff" transform="rotate(30 438.9 424.7)"/>
<ellipse cx="457.1" cy="438.8" rx="9" ry="14" fill="#fff" transform="rotate(30 457.1 438.8)"/>
<ellipse cx="475.2" cy="453" rx="9" ry="14" fill="#fff" transform="rotate(30 475.2 453)"/>
<ellipse cx="493.4" cy="467.1" rx="9" ry="14" fill="#fff" transform="rotate(30 493.4 467.1)"/>
<ellipse cx="568" cy="513" rx="52" ry="64" fill="#111" stroke="#111" stroke-width="15.7" transform="rotate(25 568 513)"/>
<ellipse cx="584" cy="519" rx="36" ry="52" fill="#fff" stroke="#111" stroke-width="9.4" transform="rotate(25 584 519)"/>
<ellipse cx="546" cy="491" rx="12" ry="19" fill="#fff" stroke="#111" stroke-width="4.7" transform="rotate(25 546 491)"/>
<ellipse cx="538" cy="545" rx="10" ry="11" fill="#fff" stroke="#111" stroke-width="4.7"/>
<path d="M695,390 L850,500" fill="none" stroke="#111" stroke-width="62.9" />
<ellipse cx="704.8" cy="396.9" rx="9" ry="14" fill="#fff" transform="rotate(30 704.8 396.9)"/>
<ellipse cx="723.5" cy="410.3" rx="9" ry="14" fill="#fff" transform="rotate(30 723.5 410.3)"/>
<ellipse cx="742.3" cy="423.6" rx="9" ry="14" fill="#fff" transform="rotate(30 742.3 423.6)"/>
<ellipse cx="761.1" cy="436.9" rx="9" ry="14" fill="#fff" transform="rotate(30 761.1 436.9)"/>
<ellipse cx="779.8" cy="450.2" rx="9" ry="14" fill="#fff" transform="rotate(30 779.8 450.2)"/>
<ellipse cx="798.6" cy="463.5" rx="9" ry="14" fill="#fff" transform="rotate(30 798.6 463.5)"/>
<ellipse cx="817.3" cy="476.8" rx="9" ry="14" fill="#fff" transform="rotate(30 817.3 476.8)"/>
<ellipse cx="836.1" cy="490.1" rx="9" ry="14" fill="#fff" transform="rotate(30 836.1 490.1)"/>
<ellipse cx="901" cy="510" rx="52" ry="64" fill="#111" stroke="#111" stroke-width="15.7" transform="rotate(25 901 510)"/>
<ellipse cx="917" cy="516" rx="36" ry="52" fill="#fff" stroke="#111" stroke-width="9.4" transform="rotate(25 917 516)"/>
<ellipse cx="879" cy="488" rx="12" ry="19" fill="#fff" stroke="#111" stroke-width="4.7" transform="rotate(25 879 488)"/>
<ellipse cx="871" cy="542" rx="10" ry="11" fill="#fff" stroke="#111" stroke-width="4.7"/>
<path d="M628,675 L765,782" fill="none" stroke="#111" stroke-width="62.9" />
<ellipse cx="637.5" cy="682.4" rx="9" ry="14" fill="#fff" transform="rotate(30 637.5 682.4)"/>
<ellipse cx="655.6" cy="696.5" rx="9" ry="14" fill="#fff" transform="rotate(30 655.6 696.5)"/>
<ellipse cx="673.7" cy="710.7" rx="9" ry="14" fill="#fff" transform="rotate(30 673.7 710.7)"/>
<ellipse cx="691.8" cy="724.9" rx="9" ry="14" fill="#fff" transform="rotate(30 691.8 724.9)"/>
<ellipse cx="710" cy="739" rx="9" ry="14" fill="#fff" transform="rotate(30 710 739)"/>
<ellipse cx="728.1" cy="753.2" rx="9" ry="14" fill="#fff" transform="rotate(30 728.1 753.2)"/>
<ellipse cx="746.2" cy="767.3" rx="9" ry="14" fill="#fff" transform="rotate(30 746.2 767.3)"/>
<ellipse cx="824" cy="810" rx="52" ry="64" fill="#111" stroke="#111" stroke-width="15.7" transform="rotate(25 824 810)"/>
<ellipse cx="840" cy="816" rx="36" ry="52" fill="#fff" stroke="#111" stroke-width="9.4" transform="rotate(25 840 816)"/>
<ellipse cx="802" cy="788" rx="12" ry="19" fill="#fff" stroke="#111" stroke-width="4.7" transform="rotate(25 802 788)"/>
<ellipse cx="794" cy="842" rx="10" ry="11" fill="#fff" stroke="#111" stroke-width="4.7"/></g>
<g transform="translate(830,490) scale(0.20000)"><path d="M680,505 L430,1148 Q436,1192 480,1196 Q520,1200 532,1186 L772,538 Z" fill="#fff" stroke="#111" stroke-width="11" />
<ellipse cx="726" cy="516" rx="50" ry="26" fill="#fff" stroke="#111" stroke-width="10" transform="rotate(18 726 516)"/>
<ellipse cx="730" cy="518" rx="34" ry="15" fill="#fff" stroke="#111" stroke-width="9" transform="rotate(18 730 518)"/>
<path d="M695,510 Q715,498 750,505" fill="none" stroke="#111" stroke-width="12.5" />
<ellipse cx="572" cy="858" rx="17" ry="20" fill="#fff" stroke="#111" stroke-width="9" transform="rotate(20 572 858)"/>
<path d="M566,838 Q594,850 580,878" fill="none" stroke="#111" stroke-width="17" />
<ellipse cx="606" cy="950" rx="17" ry="20" fill="#fff" stroke="#111" stroke-width="9" transform="rotate(20 606 950)"/>
<path d="M600,930 Q628,942 614,970" fill="none" stroke="#111" stroke-width="17" />
<ellipse cx="518" cy="1012" rx="17" ry="20" fill="#fff" stroke="#111" stroke-width="9" transform="rotate(20 518 1012)"/>
<path d="M512,992 Q540,1004 526,1032" fill="none" stroke="#111" stroke-width="17" />
<path d="M738,388 L726,452 Q745,470 780,468 L800,425" fill="#fff" stroke="#111" stroke-width="9" />
<path d="M726,452 Q750,440 784,452" fill="none" stroke="#111" stroke-width="6.5" />
<ellipse cx="784" cy="388" rx="48" ry="30" fill="#fff" stroke="#111" stroke-width="10" transform="rotate(15 784 388)"/>
<path d="M737,375 Q735,400 745,412 Q780,432 825,412 Q832,400 830,388" fill="#fff" stroke="#111" stroke-width="10" />
<ellipse cx="784" cy="380" rx="46" ry="27" fill="#fff" stroke="#111" stroke-width="10" transform="rotate(15 784 380)"/>
<ellipse cx="786" cy="380" rx="34" ry="17" fill="#fff" stroke="#111" stroke-width="7.5" transform="rotate(15 786 380)"/>
<path d="M760,392 Q790,402 818,388" fill="none" stroke="#111" stroke-width="12" /></g>
<g transform="translate(760,720) scale(0.20000)"><path d="M772,108 Q790,96 812,112 L800,160 L756,150 Z" fill="#111" stroke="#111" stroke-width="9" />
<ellipse cx="793" cy="118" rx="14" ry="9" fill="#ddd" stroke="#111" stroke-width="6" transform="rotate(20 793 118)"/>
<path d="M773,162 L626,542" fill="none" stroke="#111" stroke-width="87.5" style="stroke-linecap:butt"/>
<ellipse cx="626" cy="542" rx="44" ry="20" fill="#111" stroke="#111" stroke-width="7.5" transform="rotate(22 626 542)"/>
<ellipse cx="758.6" cy="171.4" rx="23" ry="8" fill="#fff" transform="rotate(24 758.6 171.4)"/>
<ellipse cx="749.9" cy="193.9" rx="23" ry="8" fill="#fff" transform="rotate(24 749.9 193.9)"/>
<circle cx="781.6" cy="206.2" r="3.5" fill="#fff"/>
<ellipse cx="741.2" cy="216.4" rx="23" ry="8" fill="#fff" transform="rotate(24 741.2 216.4)"/>
<ellipse cx="732.5" cy="238.9" rx="23" ry="8" fill="#fff" transform="rotate(24 732.5 238.9)"/>
<ellipse cx="723.9" cy="261.3" rx="23" ry="8" fill="#fff" transform="rotate(24 723.9 261.3)"/>
<circle cx="755.6" cy="273.6" r="3.5" fill="#fff"/>
<ellipse cx="715.2" cy="283.8" rx="23" ry="8" fill="#fff" transform="rotate(24 715.2 283.8)"/>
<ellipse cx="706.5" cy="306.3" rx="23" ry="8" fill="#fff" transform="rotate(24 706.5 306.3)"/>
<ellipse cx="697.8" cy="328.7" rx="23" ry="8" fill="#fff" transform="rotate(24 697.8 328.7)"/>
<circle cx="729.5" cy="341" r="3.5" fill="#fff"/>
<ellipse cx="689.1" cy="351.2" rx="23" ry="8" fill="#fff" transform="rotate(24 689.1 351.2)"/>
<ellipse cx="680.4" cy="373.7" rx="23" ry="8" fill="#fff" transform="rotate(24 680.4 373.7)"/>
<ellipse cx="671.7" cy="396.1" rx="23" ry="8" fill="#fff" transform="rotate(24 671.7 396.1)"/>
<circle cx="703.4" cy="408.4" r="3.5" fill="#fff"/>
<ellipse cx="663" cy="418.6" rx="23" ry="8" fill="#fff" transform="rotate(24 663 418.6)"/>
<ellipse cx="654.3" cy="441.1" rx="23" ry="8" fill="#fff" transform="rotate(24 654.3 441.1)"/>
<ellipse cx="645.6" cy="463.5" rx="23" ry="8" fill="#fff" transform="rotate(24 645.6 463.5)"/>
<circle cx="677.3" cy="475.8" r="3.5" fill="#fff"/>
<ellipse cx="636.9" cy="486" rx="23" ry="8" fill="#fff" transform="rotate(24 636.9 486)"/>
<ellipse cx="628.3" cy="508.5" rx="23" ry="8" fill="#fff" transform="rotate(24 628.3 508.5)"/>
<ellipse cx="619.6" cy="530.9" rx="23" ry="8" fill="#fff" transform="rotate(24 619.6 530.9)"/>
<circle cx="651.3" cy="543.2" r="3.5" fill="#fff"/>
<ellipse cx="478" cy="948" rx="94" ry="47" fill="#fff" stroke="#111" stroke-width="8.5" transform="rotate(20 478 948)"/>
<path d="M560.4,984.5L557.6,987.4L554.2,990.1L550.4,992.4L546,994.5L541.1,996.2L535.9,997.5L530.2,998.5L524.2,999.2L517.8,999.5L511.2,999.4L504.3,998.9L497.3,998.1L490.1,996.9L482.9,995.4L475.6,993.5L468.3,991.3L461.1,988.8L454.1,986L447.1,982.9L440.4,979.6L434,976.1L427.8,972.3L422,968.3L416.6,964.2L411.6,960L407.1,955.7L403,951.3L399.5,946.9L396.5,942.5L394.1,938L392.2,933.7L390.9,929.4L390.2,925.3L390.2,921.3L390.7,917.4L391.8,913.8L393.6,910.4L395.9,907.2L398.7,904.3L402.1,901.6" fill="none" stroke="#111" stroke-width="17" />
<ellipse cx="481" cy="944" rx="54" ry="22" fill="#fff" stroke="#111" stroke-width="8" transform="rotate(20 481 944)"/>
<path d="M432.6,936L431.9,933.8L431.6,931.7L431.7,929.7L432.3,927.9L433.2,926.2L434.5,924.6L436.3,923.3L438.4,922.1L440.8,921.2L443.6,920.4L446.8,919.9L450.2,919.5L453.8,919.4L457.7,919.6L461.8,919.9L466,920.5L470.4,921.2L474.9,922.2L479.4,923.4L483.9,924.8L488.4,926.3L492.8,928.1L497.2,929.9L501.4,931.9L505.4,934.1L509.2,936.3L512.8,938.6L516.1,940.9L519.2,943.4L521.9,945.8L524.2,948.2L526.2,950.6L527.9,953L529.1,955.3L529.9,957.6L530.3,959.7L530.3,961.7L529.9,963.6L529.1,965.4L527.9,966.9" fill="none" stroke="#111" stroke-width="16" /></g>
<g transform="translate(810,915) scale(0.05455)"><path d="M175,700 Q180,800 215,880 Q250,940 330,985 L555,1055 Q640,1060 690,1040 Q760,990 800,900 Q870,850 875,790 Z" fill="#fff" stroke="#111" stroke-width="40.3" />
<path d="M310,840 L300,960 M590,940 L585,1050" fill="none" stroke="#111" stroke-width="29.3" />
<path d="M215,790 Q400,930 700,930 Q800,900 850,840" fill="none" stroke="#111" stroke-width="33" />
<ellipse cx="522" cy="722" rx="365" ry="165" fill="#fff" stroke="#111" stroke-width="42.2" transform="rotate(18 522 722)"/>
<path d="M215,640 Q300,790 600,850 Q760,860 840,800" fill="none" stroke="#111" stroke-width="27.5" />
<path d="M300,540 Q262,600 300,660 Q400,770 600,815 Q740,825 795,785" fill="none" stroke="#111" stroke-width="36.7" />
<path d="M310,560 Q330,680 560,775 L640,780 Q480,700 400,560 Z" fill="#111" stroke="#111" stroke-width="27.5" />
<path d="M498,235 L398,540 Q450,700 640,770 Q740,770 790,700 L892,350 Z" fill="#fff" stroke="#111" stroke-width="36.7" />
<path d="M470,390 Q600,485 820,495" fill="none" stroke="#111" stroke-width="27.5" />
<path d="M451,456 Q581,551 798,561" fill="none" stroke="#111" stroke-width="27.5" />
<path d="M432,522 Q562,617 776,627" fill="none" stroke="#111" stroke-width="27.5" />
<path d="M413,588 Q543,683 754,693" fill="none" stroke="#111" stroke-width="27.5" />
<path d="M394,654 Q524,749 732,759" fill="none" stroke="#111" stroke-width="27.5" />
<path d="M375,720 Q505,815 710,825" fill="none" stroke="#111" stroke-width="27.5" />
<path d="M430,470 L400,545 Q440,660 560,735" fill="none" stroke="#111" stroke-width="47.7" />
<ellipse cx="692" cy="285" rx="205" ry="100" fill="#111" stroke="#111" stroke-width="36.7" transform="rotate(15 692 285)"/>
<ellipse cx="596" cy="238" rx="26" ry="26" fill="#fff" stroke="#fff" stroke-width="9.2"/>
<ellipse cx="712" cy="268" rx="46" ry="26" fill="#fff" stroke="#fff" stroke-width="9.2" transform="rotate(15 712 268)"/>
<ellipse cx="818" cy="330" rx="22" ry="24" fill="#fff" stroke="#fff" stroke-width="9.2"/></g>
<g transform="translate(100,430) scale(0.12727)"><path d="M345,190 Q420,125 510,100 Q545,98 580,122" fill="none" stroke="#111" stroke-width="23.6" />
<path d="M375,214 Q440,165 522,142" fill="none" stroke="#111" stroke-width="10.2" />
<path d="M580,122 L855,292 L800,332" fill="none" stroke="#111" stroke-width="15.7" />
<path d="M855,292 L790,346" fill="none" stroke="#111" stroke-width="15.7" />
<path d="M245,165 Q265,162 295,185 L420,250 Q448,268 452,290" fill="none" stroke="#111" stroke-width="15.7" />
<path d="M245,165 Q215,185 205,225 Q195,290 170,330 Q140,380 105,410" fill="none" stroke="#111" stroke-width="15.7" />
<path d="M38,392 Q55,385 100,405 L270,490 Q292,503 288,525" fill="none" stroke="#111" stroke-width="15.7" />
<path d="M38,392 L0,420 L-187,550" fill="none" stroke="#111" stroke-width="15.7" />
<path d="M345,190 L332,203 M380,216 Q410,250 430,278" fill="none" stroke="#111" stroke-width="15.7" />
<ellipse cx="428" cy="318" rx="21" ry="30" fill="#111" stroke="#111" stroke-width="11.8" transform="rotate(15 428 318)"/>
<ellipse cx="432" cy="316" rx="9" ry="13" fill="#fff" stroke="#fff" stroke-width="7.9" transform="rotate(15 432 316)"/>
<path d="M452,290 Q470,335 525,322 L555,336 Q562,346 576,345" fill="none" stroke="#111" stroke-width="15.7" />
<path d="M576,345 Q620,292 690,263 Q730,258 760,290 L800,332" fill="none" stroke="#111" stroke-width="15.7" />
<path d="M420,300 L335,470 L600,335" fill="none" stroke="#111" stroke-width="15.7" />
<path d="M350,512 L655,352" fill="none" stroke="#111" stroke-width="15.7" />
<ellipse cx="238" cy="530" rx="24" ry="28" fill="#111" stroke="#111" stroke-width="11.8" transform="rotate(15 238 530)"/>
<ellipse cx="242" cy="528" rx="10" ry="12" fill="#fff" stroke="#fff" stroke-width="7.9" transform="rotate(15 242 528)"/>
<path d="M200,575 L288,525 M192,500 L210,575" fill="none" stroke="#111" stroke-width="15.7" />
<path d="M335,520 Q360,500 400,496 Q440,502 490,485" fill="none" stroke="#111" stroke-width="18.1" />
<path d="M490,485 Q500,510 478,535 Q455,560 458,585 L470,600 Q495,595 505,615 L512,660 L498,690 L505,770" fill="none" stroke="#111" stroke-width="15.7" />
<path d="M470,600 L480,640 L490,700" fill="none" stroke="#111" stroke-width="15.7" />
<path d="M468,605 L462,790 L440,880 L372,1265" fill="none" stroke="#111" stroke-width="9.4" />
<path d="M495,770 L455,900 L400,1255" fill="none" stroke="#111" stroke-width="9.4" />
<path d="M715,470 Q660,560 600,690 Q560,770 505,800 L460,850" fill="none" stroke="#111" stroke-width="15.7" />
<path d="M790,346 Q830,380 828,440 Q862,500 885,565 Q900,650 880,740 Q872,790 858,812" fill="none" stroke="#111" stroke-width="15.7" />
<path d="M858,812 Q892,832 886,872 Q870,912 828,906" fill="none" stroke="#111" stroke-width="15.7" />
<path d="M828,906 Q836,985 803,1046" fill="none" stroke="#111" stroke-width="15.7" />
<path d="M655,440 Q645,380 690,335 Q740,300 772,345 Q790,380 760,430 Q740,470 700,468 Q665,465 655,440 Z" fill="none" stroke="#111" stroke-width="15.7" />
<ellipse cx="762" cy="405" rx="14" ry="22" fill="none" stroke="#111" stroke-width="10.2" transform="rotate(20 762 405)"/>
<ellipse cx="733" cy="758" rx="112" ry="165" fill="none" stroke="#111" stroke-width="10.2" transform="rotate(20 733 758)"/>
<ellipse cx="733" cy="758" rx="88" ry="130" fill="none" stroke="#111" stroke-width="9.4" transform="rotate(20 733 758)"/>
<ellipse cx="735" cy="758" rx="72" ry="108" fill="none" stroke="#111" stroke-width="18.9" transform="rotate(20 735 758)"/>
<path d="M832,1105 Q800,1130 745,1150 Q722,1170 727,1195 Q702,1232 662,1216 Q622,1240 612,1282 Q618,1330 592,1362 Q562,1382 522,1372 L482,1402" fill="none" stroke="#111" stroke-width="15.7" />
<path d="M392,1272 Q480,1250 555,1185" fill="none" stroke="#111" stroke-width="22" />
<path d="M800,1062 L835,1108" fill="none" stroke="#111" stroke-width="17.3" /></g>
<g transform="translate(10,500) scale(0.12727)"><path d="M520,0 L350,118 Q298,158 272,205" fill="none" stroke="#111" stroke-width="11.8" />
<path d="M265,215 L260,272" fill="none" stroke="#111" stroke-width="15.7" />
<path d="M260,272 Q238,292 245,322 Q302,380 318,470 Q330,560 292,632 Q252,690 152,686" fill="none" stroke="#111" stroke-width="15.7" />
<path d="M210,682 Q140,682 118,702" fill="none" stroke="#111" stroke-width="20.4" />
<path d="M118,702 Q100,750 95,790 L180,850 Q212,900 226,950 L232,1012 L500,1140 Q540,1152 572,1130" fill="none" stroke="#111" stroke-width="15.7" />
<path d="M180,850 L232,958" fill="none" stroke="#111" stroke-width="20.4" />
<path d="M260,275 L492,395 Q502,420 502,450" fill="none" stroke="#111" stroke-width="15.7" />
<path d="M500,362 Q522,320 572,300 Q562,342 530,377 Q510,388 500,362 Z" fill="none" stroke="#111" stroke-width="17.3" />
<ellipse cx="530" cy="345" rx="10" ry="14" fill="#111" stroke="#111" stroke-width="7.9" transform="rotate(40 530 345)"/>
<path d="M410,410 Q442,400 470,440 Q482,470 470,522 L402,762 Q382,792 350,777 Q320,760 326,722 L395,442 Q400,416 410,410 Z" fill="none" stroke="#111" stroke-width="15.7" />
<path d="M502,450 L496,600 Q482,660 452,722 L402,832 Q392,882 402,932" fill="none" stroke="#111" stroke-width="15.7" />
<path d="M262,832 Q292,802 332,816 L372,842 Q382,872 352,902 L342,932" fill="none" stroke="#111" stroke-width="15.7" />
<path d="M262,832 L246,862 L342,922" fill="none" stroke="#111" stroke-width="15.7" />
<path d="M342,927 L562,1022 Q582,992 602,962" fill="none" stroke="#111" stroke-width="15.7" />
<path d="M242,952 L236,1012 M292,952 L472,1042" fill="none" stroke="#111" stroke-width="15.7" />
<path d="M232,958 L270,975 L268,1015 L236,1005 Z" fill="#111" stroke="#111" stroke-width="9.4" />
<path d="M472,1042 Q482,1002 522,1002 L602,1042 Q622,1092 592,1132 Q562,1152 522,1142 L472,1112 Z" fill="#fff" stroke="#111" stroke-width="15.7" />
<ellipse cx="582" cy="1087" rx="25" ry="36" fill="none" stroke="#111" stroke-width="11" transform="rotate(20 582 1087)"/>
<ellipse cx="586" cy="1090" rx="9" ry="12" fill="none" stroke="#111" stroke-width="9.4" transform="rotate(20 586 1090)"/>
<path d="M562,1022 L662,1012 L692,962" fill="none" stroke="#111" stroke-width="15.7" />
<ellipse cx="702" cy="990" rx="25" ry="42" fill="#fff" stroke="#111" stroke-width="15.7" transform="rotate(15 702 990)"/>
<path d="M622,1062 Q662,1092 722,1087 Q772,1077 772,1032 L802,1012 L792,942 Q832,902 872,862" fill="none" stroke="#111" stroke-width="15.7" />
<path d="M652,932 Q762,902 862,852 Q962,782 1012,722" fill="none" stroke="#111" stroke-width="15.7" />
<path d="M985,265 Q1020,260 1030,300 L1000,450 Q985,480 960,465 Q940,450 945,420 L975,290 Q975,270 985,265 Z" fill="none" stroke="#111" stroke-width="15.7" />
<path d="M962,82 Q1002,142 1012,212" fill="none" stroke="#111" stroke-width="15.7" />
<path d="M1012,62 Q1072,132 1082,222" fill="none" stroke="#111" stroke-width="15.7" />
<ellipse cx="892" cy="167" rx="32" ry="42" fill="#111" stroke="#111" stroke-width="11.8" transform="rotate(15 892 167)"/>
<ellipse cx="896" cy="165" rx="11" ry="15" fill="#fff" stroke="#fff" stroke-width="7.9" transform="rotate(15 896 165)"/>
<ellipse cx="1002" cy="890" rx="62" ry="57" fill="#fff" stroke="#111" stroke-width="14.1" transform="rotate(-20 1002 890)"/>
<ellipse cx="1002" cy="890" rx="28" ry="36" fill="none" stroke="#111" stroke-width="17.3" transform="rotate(10 1002 890)"/>
<path d="M862,932 L952,850 M902,1002 L1012,950" fill="none" stroke="#111" stroke-width="15.7" />
<ellipse cx="887" cy="965" rx="30" ry="30" fill="#fff" stroke="#111" stroke-width="15.7"/>
<ellipse cx="884" cy="968" rx="12" ry="14" fill="#111" stroke="#111" stroke-width="7.9"/>
<path d="M802,1012 Q802,952 832,922" fill="none" stroke="#111" stroke-width="15.7" />
<path d="M932,222 L1100,292" fill="none" stroke="#111" stroke-width="15.7" />
<path d="M1062,312 Q1082,502 1042,652 Q1002,762 902,842" fill="none" stroke="#111" stroke-width="15.7" />
<path d="M1100,632 L1072,742 Q1002,772 962,792" fill="none" stroke="#111" stroke-width="15.7" />
<path d="M985,760 L1040,800 M1030,765 L1000,810" fill="none" stroke="#111" stroke-width="6.3" /></g>
<g transform="translate(50,500) scale(0.10000)"><path d="M605,285 Q660,255 715,285 Q750,320 738,400" fill="none" stroke="#111" stroke-width="20" />
<path d="M605,285 Q615,305 640,315 Q690,320 712,360 Q725,390 720,425" fill="none" stroke="#111" stroke-width="20" />
<path d="M715,400 Q725,440 745,470" fill="none" stroke="#111" stroke-width="26" />
<path d="M400,430 Q470,340 560,272" fill="none" stroke="#111" stroke-width="30" />
<path d="M560,272 Q620,232 690,196" fill="none" stroke="#111" stroke-width="16" />
<path d="M600,330 Q470,420 395,560 Q365,640 385,715" fill="none" stroke="#111" stroke-width="20" />
<path d="M385,715 Q450,770 540,745 Q640,690 700,560 Q725,480 730,400" fill="none" stroke="#111" stroke-width="20" />
<path d="M350,735 Q420,800 520,790 Q590,775 640,745" fill="none" stroke="#111" stroke-width="20" />
<path d="M365,520 Q312,640 302,750" fill="none" stroke="#111" stroke-width="30" />
<path d="M335,560 Q255,720 248,880 Q262,1020 360,1120 Q400,1160 440,1180" fill="none" stroke="#111" stroke-width="15" />
<path d="M300,700 Q275,860 300,980 Q340,1090 430,1150" fill="none" stroke="#111" stroke-width="12" />
<path d="M742,470 Q720,580 655,720 L625,770" fill="none" stroke="#111" stroke-width="20" />
<path d="M355,765 Q390,810 445,832 L500,852 Q560,795 625,795 L720,830" fill="none" stroke="#111" stroke-width="20" />
<ellipse cx="665" cy="785" rx="55" ry="23" fill="#fff" stroke="#111" stroke-width="20" transform="rotate(20 665 785)"/>
<path d="M715,800 L765,852" fill="none" stroke="#111" stroke-width="28" />
<path d="M800,600 Q790,700 750,830" fill="none" stroke="#111" stroke-width="20" />
<path d="M470,862 Q515,950 528,1050" fill="none" stroke="#111" stroke-width="36" />
<ellipse cx="506" cy="965" rx="8" ry="8" fill="#fff" stroke="#fff" stroke-width="3"/>
<ellipse cx="498" cy="1010" rx="8" ry="8" fill="#fff" stroke="#fff" stroke-width="3"/>
<ellipse cx="476" cy="1052" rx="8" ry="8" fill="#fff" stroke="#fff" stroke-width="3"/>
<path d="M445,832 Q440,880 470,935" fill="none" stroke="#111" stroke-width="20" />
<path d="M410,860 Q420,900 398,925" fill="none" stroke="#111" stroke-width="20" />
<path d="M370,962 Q380,930 420,922 L472,942 Q500,1000 470,1050 Q430,1072 390,1040 Q360,1000 370,962 Z" fill="none" stroke="#111" stroke-width="20" />
<path d="M640,850 L570,1000" fill="none" stroke="#111" stroke-width="12" stroke-dasharray="30 22"/>
<path d="M420,1055 Q470,1100 540,1090" fill="none" stroke="#111" stroke-width="20" /></g>
</svg>
</body></html>
